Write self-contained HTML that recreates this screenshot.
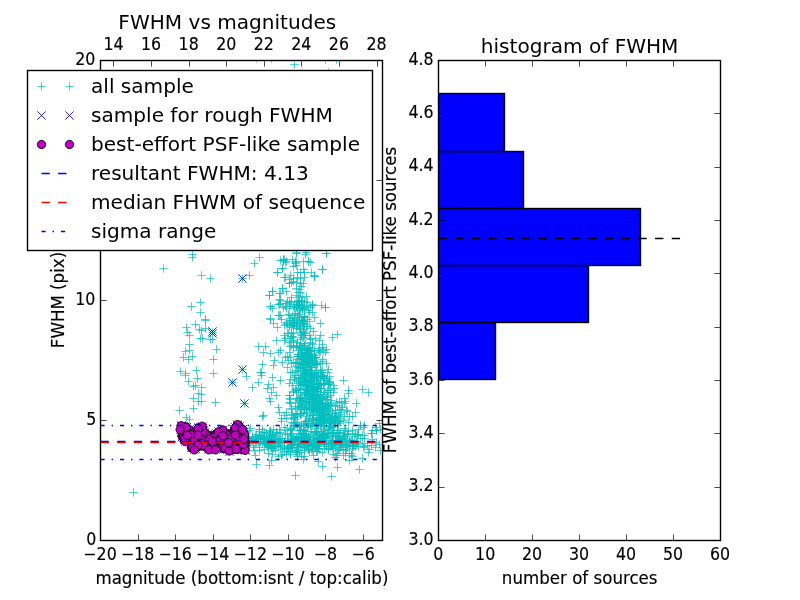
<!DOCTYPE html>
<html lang="en"><head><meta charset="utf-8"><title>FWHM vs magnitudes</title>
<style>html,body{margin:0;padding:0;background:#fff;}body{width:800px;height:600px;overflow:hidden;}svg{display:block;}text{font-family:'DejaVu Sans','Liberation Sans',sans-serif;fill:#000;}text.b{stroke:#000;stroke-width:0.15px;}.sp{fill:none;stroke:#000;stroke-width:1.39;stroke-linejoin:miter;stroke-linecap:square;}.tk{stroke:#000;stroke-width:0.7;fill:none;}.cp{stroke:#00bfbf;stroke-width:0.7;fill:none;}.bx{stroke:#0000ff;stroke-width:0.85;fill:none;}.mo{fill:#bf00bf;stroke:#000;stroke-width:0.8;}</style></head><body>
<svg width="800" height="600" viewBox="0 0 800 600">
<rect x="0" y="0" width="800" height="600" fill="#fff"/>
<defs><clipPath id="c1"><rect x="100.50" y="60.50" width="282.00" height="480.00"/></clipPath>
<clipPath id="c2"><rect x="438.50" y="60.50" width="282.00" height="480.00"/></clipPath></defs>
<g clip-path="url(#c1)">
<path class="cp" d="M294.3 301.5h8.34M298.5 297.3v8.34M287.3 301.5h8.34M291.5 297.3v8.34M294.3 301.5h8.34M298.5 297.3v8.34M283.3 301.5h8.34M287.5 297.3v8.34M297.3 301.5h8.34M301.5 297.3v8.34M293.3 302.5h8.34M297.5 298.3v8.34M282.3 303.5h8.34M286.5 299.3v8.34M292.3 304.5h8.34M296.5 300.3v8.34M295.3 304.5h8.34M299.5 300.3v8.34M286.3 304.5h8.34M290.5 300.3v8.34M295.3 305.5h8.34M299.5 301.3v8.34M317.3 305.5h8.34M321.5 301.3v8.34M298.3 305.5h8.34M302.5 301.3v8.34M285.3 306.5h8.34M289.5 302.3v8.34M292.3 306.5h8.34M296.5 302.3v8.34M289.3 306.5h8.34M293.5 302.3v8.34M302.3 306.5h8.34M306.5 302.3v8.34M292.3 306.5h8.34M296.5 302.3v8.34M292.3 307.5h8.34M296.5 303.3v8.34M293.3 307.5h8.34M297.5 303.3v8.34M300.3 307.5h8.34M304.5 303.3v8.34M298.3 307.5h8.34M302.5 303.3v8.34M279.3 307.5h8.34M283.5 303.3v8.34M282.3 308.5h8.34M286.5 304.3v8.34M296.3 308.5h8.34M300.5 304.3v8.34M298.3 308.5h8.34M302.5 304.3v8.34M290.3 308.5h8.34M294.5 304.3v8.34M300.3 309.5h8.34M304.5 305.3v8.34M298.3 309.5h8.34M302.5 305.3v8.34M295.3 310.5h8.34M299.5 306.3v8.34M304.3 310.5h8.34M308.5 306.3v8.34M305.3 312.5h8.34M309.5 308.3v8.34M308.3 312.5h8.34M312.5 308.3v8.34M293.3 313.5h8.34M297.5 309.3v8.34M291.3 313.5h8.34M295.5 309.3v8.34M295.3 314.5h8.34M299.5 310.3v8.34M284.3 314.5h8.34M288.5 310.3v8.34M288.3 315.5h8.34M292.5 311.3v8.34M294.3 315.5h8.34M298.5 311.3v8.34M285.3 315.5h8.34M289.5 311.3v8.34M300.3 316.5h8.34M304.5 312.3v8.34M300.3 316.5h8.34M304.5 312.3v8.34M300.3 317.5h8.34M304.5 313.3v8.34M300.3 317.5h8.34M304.5 313.3v8.34M290.3 317.5h8.34M294.5 313.3v8.34M295.3 317.5h8.34M299.5 313.3v8.34M286.3 318.5h8.34M290.5 314.3v8.34M290.3 318.5h8.34M294.5 314.3v8.34M303.3 319.5h8.34M307.5 315.3v8.34M293.3 319.5h8.34M297.5 315.3v8.34M277.3 319.5h8.34M281.5 315.3v8.34M298.3 320.5h8.34M302.5 316.3v8.34M299.3 320.5h8.34M303.5 316.3v8.34M297.3 320.5h8.34M301.5 316.3v8.34M288.3 320.5h8.34M292.5 316.3v8.34M285.3 320.5h8.34M289.5 316.3v8.34M295.3 320.5h8.34M299.5 316.3v8.34M298.3 321.5h8.34M302.5 317.3v8.34M289.3 321.5h8.34M293.5 317.3v8.34M305.3 321.5h8.34M309.5 317.3v8.34M299.3 321.5h8.34M303.5 317.3v8.34M282.3 322.5h8.34M286.5 318.3v8.34M292.3 322.5h8.34M296.5 318.3v8.34M298.3 322.5h8.34M302.5 318.3v8.34M290.3 322.5h8.34M294.5 318.3v8.34M289.3 322.5h8.34M293.5 318.3v8.34M292.3 323.5h8.34M296.5 319.3v8.34M289.3 322.5h8.34M293.5 318.3v8.34M300.3 323.5h8.34M304.5 319.3v8.34M290.3 323.5h8.34M294.5 319.3v8.34M283.3 323.5h8.34M287.5 319.3v8.34M299.3 323.5h8.34M303.5 319.3v8.34M282.3 324.5h8.34M286.5 320.3v8.34M300.3 324.5h8.34M304.5 320.3v8.34M285.3 324.5h8.34M289.5 320.3v8.34M285.3 324.5h8.34M289.5 320.3v8.34M290.3 324.5h8.34M294.5 320.3v8.34M289.3 325.5h8.34M293.5 321.3v8.34M293.3 325.5h8.34M297.5 321.3v8.34M289.3 325.5h8.34M293.5 321.3v8.34M292.3 325.5h8.34M296.5 321.3v8.34M303.3 326.5h8.34M307.5 322.3v8.34M295.3 325.5h8.34M299.5 321.3v8.34M280.3 325.5h8.34M284.5 321.3v8.34M287.3 327.5h8.34M291.5 323.3v8.34M285.3 326.5h8.34M289.5 322.3v8.34M302.3 326.5h8.34M306.5 322.3v8.34M292.3 326.5h8.34M296.5 322.3v8.34M299.3 326.5h8.34M303.5 322.3v8.34M296.3 327.5h8.34M300.5 323.3v8.34M306.3 328.5h8.34M310.5 324.3v8.34M292.3 328.5h8.34M296.5 324.3v8.34M295.3 328.5h8.34M299.5 324.3v8.34M296.3 329.5h8.34M300.5 325.3v8.34M299.3 329.5h8.34M303.5 325.3v8.34M299.3 331.5h8.34M303.5 327.3v8.34M300.3 332.5h8.34M304.5 328.3v8.34M287.3 332.5h8.34M291.5 328.3v8.34M296.3 332.5h8.34M300.5 328.3v8.34M289.3 333.5h8.34M293.5 329.3v8.34M284.3 333.5h8.34M288.5 329.3v8.34M283.3 333.5h8.34M287.5 329.3v8.34M301.3 333.5h8.34M305.5 329.3v8.34M297.3 335.5h8.34M301.5 331.3v8.34M333.3 334.5h8.34M337.5 330.3v8.34M297.3 334.5h8.34M301.5 330.3v8.34M305.3 335.5h8.34M309.5 331.3v8.34M300.3 335.5h8.34M304.5 331.3v8.34M280.3 335.5h8.34M284.5 331.3v8.34M288.3 336.5h8.34M292.5 332.3v8.34M287.3 336.5h8.34M291.5 332.3v8.34M298.3 337.5h8.34M302.5 333.3v8.34M299.3 337.5h8.34M303.5 333.3v8.34M289.3 337.5h8.34M293.5 333.3v8.34M306.3 338.5h8.34M310.5 334.3v8.34M286.3 338.5h8.34M290.5 334.3v8.34M311.3 338.5h8.34M315.5 334.3v8.34M281.3 338.5h8.34M285.5 334.3v8.34M306.3 339.5h8.34M310.5 335.3v8.34M296.3 339.5h8.34M300.5 335.3v8.34M289.3 340.5h8.34M293.5 336.3v8.34M280.3 340.5h8.34M284.5 336.3v8.34M285.3 342.5h8.34M289.5 338.3v8.34M289.3 341.5h8.34M293.5 337.3v8.34M293.3 342.5h8.34M297.5 338.3v8.34M306.3 342.5h8.34M310.5 338.3v8.34M296.3 343.5h8.34M300.5 339.3v8.34M308.3 343.5h8.34M312.5 339.3v8.34M301.3 343.5h8.34M305.5 339.3v8.34M318.3 344.5h8.34M322.5 340.3v8.34M308.3 344.5h8.34M312.5 340.3v8.34M287.3 345.5h8.34M291.5 341.3v8.34M300.3 345.5h8.34M304.5 341.3v8.34M300.3 345.5h8.34M304.5 341.3v8.34M292.3 345.5h8.34M296.5 341.3v8.34M286.3 346.5h8.34M290.5 342.3v8.34M292.3 346.5h8.34M296.5 342.3v8.34M295.3 346.5h8.34M299.5 342.3v8.34M289.3 347.5h8.34M293.5 343.3v8.34M318.3 347.5h8.34M322.5 343.3v8.34M299.3 347.5h8.34M303.5 343.3v8.34M298.3 348.5h8.34M302.5 344.3v8.34M305.3 347.5h8.34M309.5 343.3v8.34M296.3 347.5h8.34M300.5 343.3v8.34M297.3 347.5h8.34M301.5 343.3v8.34M289.3 347.5h8.34M293.5 343.3v8.34M308.3 348.5h8.34M312.5 344.3v8.34M298.3 348.5h8.34M302.5 344.3v8.34M315.3 348.5h8.34M319.5 344.3v8.34M296.3 348.5h8.34M300.5 344.3v8.34M304.3 348.5h8.34M308.5 344.3v8.34M295.3 348.5h8.34M299.5 344.3v8.34M303.3 349.5h8.34M307.5 345.3v8.34M303.3 349.5h8.34M307.5 345.3v8.34M276.3 350.5h8.34M280.5 346.3v8.34M302.3 350.5h8.34M306.5 346.3v8.34M303.3 350.5h8.34M307.5 346.3v8.34M310.3 350.5h8.34M314.5 346.3v8.34M294.3 350.5h8.34M298.5 346.3v8.34M297.3 350.5h8.34M301.5 346.3v8.34M314.3 350.5h8.34M318.5 346.3v8.34M305.3 350.5h8.34M309.5 346.3v8.34M306.3 351.5h8.34M310.5 347.3v8.34M306.3 351.5h8.34M310.5 347.3v8.34M285.3 352.5h8.34M289.5 348.3v8.34M300.3 352.5h8.34M304.5 348.3v8.34M297.3 352.5h8.34M301.5 348.3v8.34M302.3 353.5h8.34M306.5 349.3v8.34M315.3 352.5h8.34M319.5 348.3v8.34M300.3 352.5h8.34M304.5 348.3v8.34M305.3 353.5h8.34M309.5 349.3v8.34M297.3 353.5h8.34M301.5 349.3v8.34M294.3 354.5h8.34M298.5 350.3v8.34M305.3 354.5h8.34M309.5 350.3v8.34M301.3 355.5h8.34M305.5 351.3v8.34M294.3 354.5h8.34M298.5 350.3v8.34M307.3 354.5h8.34M311.5 350.3v8.34M303.3 354.5h8.34M307.5 350.3v8.34M301.3 354.5h8.34M305.5 350.3v8.34M305.3 355.5h8.34M309.5 351.3v8.34M304.3 355.5h8.34M308.5 351.3v8.34M298.3 355.5h8.34M302.5 351.3v8.34M310.3 355.5h8.34M314.5 351.3v8.34M297.3 355.5h8.34M301.5 351.3v8.34M300.3 356.5h8.34M304.5 352.3v8.34M305.3 356.5h8.34M309.5 352.3v8.34M295.3 356.5h8.34M299.5 352.3v8.34M294.3 356.5h8.34M298.5 352.3v8.34M293.3 356.5h8.34M297.5 352.3v8.34M283.3 356.5h8.34M287.5 352.3v8.34M307.3 356.5h8.34M311.5 352.3v8.34M298.3 357.5h8.34M302.5 353.3v8.34M302.3 357.5h8.34M306.5 353.3v8.34M311.3 357.5h8.34M315.5 353.3v8.34M286.3 357.5h8.34M290.5 353.3v8.34M311.3 357.5h8.34M315.5 353.3v8.34M298.3 357.5h8.34M302.5 353.3v8.34M312.3 357.5h8.34M316.5 353.3v8.34M301.3 357.5h8.34M305.5 353.3v8.34M300.3 358.5h8.34M304.5 354.3v8.34M306.3 358.5h8.34M310.5 354.3v8.34M308.3 358.5h8.34M312.5 354.3v8.34M310.3 358.5h8.34M314.5 354.3v8.34M299.3 358.5h8.34M303.5 354.3v8.34M299.3 358.5h8.34M303.5 354.3v8.34M305.3 358.5h8.34M309.5 354.3v8.34M293.3 359.5h8.34M297.5 355.3v8.34M308.3 359.5h8.34M312.5 355.3v8.34M318.3 359.5h8.34M322.5 355.3v8.34M297.3 359.5h8.34M301.5 355.3v8.34M299.3 359.5h8.34M303.5 355.3v8.34M305.3 361.5h8.34M309.5 357.3v8.34M308.3 360.5h8.34M312.5 356.3v8.34M303.3 360.5h8.34M307.5 356.3v8.34M303.3 360.5h8.34M307.5 356.3v8.34M301.3 360.5h8.34M305.5 356.3v8.34M306.3 360.5h8.34M310.5 356.3v8.34M303.3 360.5h8.34M307.5 356.3v8.34M284.3 360.5h8.34M288.5 356.3v8.34M304.3 360.5h8.34M308.5 356.3v8.34M309.3 361.5h8.34M313.5 357.3v8.34M306.3 361.5h8.34M310.5 357.3v8.34M289.3 362.5h8.34M293.5 358.3v8.34M307.3 361.5h8.34M311.5 357.3v8.34M298.3 361.5h8.34M302.5 357.3v8.34M299.3 361.5h8.34M303.5 357.3v8.34M300.3 361.5h8.34M304.5 357.3v8.34M318.3 361.5h8.34M322.5 357.3v8.34M305.3 362.5h8.34M309.5 358.3v8.34M311.3 362.5h8.34M315.5 358.3v8.34M291.3 362.5h8.34M295.5 358.3v8.34M302.3 362.5h8.34M306.5 358.3v8.34M292.3 362.5h8.34M296.5 358.3v8.34M293.3 363.5h8.34M297.5 359.3v8.34M304.3 363.5h8.34M308.5 359.3v8.34M302.3 363.5h8.34M306.5 359.3v8.34M312.3 363.5h8.34M316.5 359.3v8.34M301.3 363.5h8.34M305.5 359.3v8.34M306.3 363.5h8.34M310.5 359.3v8.34M287.3 363.5h8.34M291.5 359.3v8.34M322.3 363.5h8.34M326.5 359.3v8.34M310.3 363.5h8.34M314.5 359.3v8.34M295.3 363.5h8.34M299.5 359.3v8.34M316.3 363.5h8.34M320.5 359.3v8.34M307.3 364.5h8.34M311.5 360.3v8.34M312.3 364.5h8.34M316.5 360.3v8.34M296.3 364.5h8.34M300.5 360.3v8.34M312.3 364.5h8.34M316.5 360.3v8.34M297.3 364.5h8.34M301.5 360.3v8.34M307.3 364.5h8.34M311.5 360.3v8.34M313.3 364.5h8.34M317.5 360.3v8.34M299.3 364.5h8.34M303.5 360.3v8.34M304.3 364.5h8.34M308.5 360.3v8.34M306.3 365.5h8.34M310.5 361.3v8.34M299.3 365.5h8.34M303.5 361.3v8.34M307.3 365.5h8.34M311.5 361.3v8.34M307.3 365.5h8.34M311.5 361.3v8.34M300.3 365.5h8.34M304.5 361.3v8.34M305.3 365.5h8.34M309.5 361.3v8.34M291.3 366.5h8.34M295.5 362.3v8.34M298.3 367.5h8.34M302.5 363.3v8.34M306.3 366.5h8.34M310.5 362.3v8.34M307.3 367.5h8.34M311.5 363.3v8.34M301.3 367.5h8.34M305.5 363.3v8.34M307.3 367.5h8.34M311.5 363.3v8.34M294.3 367.5h8.34M298.5 363.3v8.34M296.3 367.5h8.34M300.5 363.3v8.34M306.3 367.5h8.34M310.5 363.3v8.34M302.3 367.5h8.34M306.5 363.3v8.34M283.3 367.5h8.34M287.5 363.3v8.34M296.3 368.5h8.34M300.5 364.3v8.34M299.3 369.5h8.34M303.5 365.3v8.34M298.3 368.5h8.34M302.5 364.3v8.34M302.3 369.5h8.34M306.5 365.3v8.34M316.3 370.5h8.34M320.5 366.3v8.34M302.3 369.5h8.34M306.5 365.3v8.34M303.3 369.5h8.34M307.5 365.3v8.34M305.3 370.5h8.34M309.5 366.3v8.34M292.3 370.5h8.34M296.5 366.3v8.34M298.3 370.5h8.34M302.5 366.3v8.34M311.3 370.5h8.34M315.5 366.3v8.34M303.3 370.5h8.34M307.5 366.3v8.34M318.3 370.5h8.34M322.5 366.3v8.34M293.3 371.5h8.34M297.5 367.3v8.34M299.3 371.5h8.34M303.5 367.3v8.34M305.3 371.5h8.34M309.5 367.3v8.34M316.3 372.5h8.34M320.5 368.3v8.34M317.3 372.5h8.34M321.5 368.3v8.34M299.3 372.5h8.34M303.5 368.3v8.34M312.3 372.5h8.34M316.5 368.3v8.34M286.3 372.5h8.34M290.5 368.3v8.34M308.3 372.5h8.34M312.5 368.3v8.34M323.3 372.5h8.34M327.5 368.3v8.34M288.3 372.5h8.34M292.5 368.3v8.34M301.3 373.5h8.34M305.5 369.3v8.34M301.3 373.5h8.34M305.5 369.3v8.34M314.3 373.5h8.34M318.5 369.3v8.34M300.3 374.5h8.34M304.5 370.3v8.34M310.3 373.5h8.34M314.5 369.3v8.34M304.3 373.5h8.34M308.5 369.3v8.34M300.3 373.5h8.34M304.5 369.3v8.34M307.3 374.5h8.34M311.5 370.3v8.34M311.3 374.5h8.34M315.5 370.3v8.34M303.3 374.5h8.34M307.5 370.3v8.34M301.3 374.5h8.34M305.5 370.3v8.34M317.3 375.5h8.34M321.5 371.3v8.34M294.3 375.5h8.34M298.5 371.3v8.34M318.3 375.5h8.34M322.5 371.3v8.34M299.3 375.5h8.34M303.5 371.3v8.34M309.3 375.5h8.34M313.5 371.3v8.34M319.3 375.5h8.34M323.5 371.3v8.34M306.3 375.5h8.34M310.5 371.3v8.34M307.3 375.5h8.34M311.5 371.3v8.34M306.3 375.5h8.34M310.5 371.3v8.34M291.3 375.5h8.34M295.5 371.3v8.34M301.3 376.5h8.34M305.5 372.3v8.34M307.3 376.5h8.34M311.5 372.3v8.34M319.3 376.5h8.34M323.5 372.3v8.34M301.3 376.5h8.34M305.5 372.3v8.34M312.3 376.5h8.34M316.5 372.3v8.34M318.3 376.5h8.34M322.5 372.3v8.34M325.3 376.5h8.34M329.5 372.3v8.34M300.3 376.5h8.34M304.5 372.3v8.34M302.3 376.5h8.34M306.5 372.3v8.34M308.3 377.5h8.34M312.5 373.3v8.34M313.3 377.5h8.34M317.5 373.3v8.34M312.3 377.5h8.34M316.5 373.3v8.34M296.3 377.5h8.34M300.5 373.3v8.34M310.3 377.5h8.34M314.5 373.3v8.34M268.3 377.5h8.34M272.5 373.3v8.34M312.3 377.5h8.34M316.5 373.3v8.34M297.3 377.5h8.34M301.5 373.3v8.34M290.3 377.5h8.34M294.5 373.3v8.34M316.3 377.5h8.34M320.5 373.3v8.34M295.3 378.5h8.34M299.5 374.3v8.34M316.3 378.5h8.34M320.5 374.3v8.34M303.3 379.5h8.34M307.5 375.3v8.34M305.3 378.5h8.34M309.5 374.3v8.34M320.3 378.5h8.34M324.5 374.3v8.34M298.3 378.5h8.34M302.5 374.3v8.34M323.3 378.5h8.34M327.5 374.3v8.34M320.3 378.5h8.34M324.5 374.3v8.34M309.3 378.5h8.34M313.5 374.3v8.34M290.3 379.5h8.34M294.5 375.3v8.34M286.3 379.5h8.34M290.5 375.3v8.34M301.3 379.5h8.34M305.5 375.3v8.34M316.3 379.5h8.34M320.5 375.3v8.34M313.3 380.5h8.34M317.5 376.3v8.34M322.3 380.5h8.34M326.5 376.3v8.34M306.3 380.5h8.34M310.5 376.3v8.34M300.3 380.5h8.34M304.5 376.3v8.34M312.3 380.5h8.34M316.5 376.3v8.34M322.3 380.5h8.34M326.5 376.3v8.34M305.3 380.5h8.34M309.5 376.3v8.34M309.3 380.5h8.34M313.5 376.3v8.34M292.3 380.5h8.34M296.5 376.3v8.34M305.3 381.5h8.34M309.5 377.3v8.34M305.3 381.5h8.34M309.5 377.3v8.34M302.3 381.5h8.34M306.5 377.3v8.34M294.3 381.5h8.34M298.5 377.3v8.34M307.3 381.5h8.34M311.5 377.3v8.34M305.3 382.5h8.34M309.5 378.3v8.34M310.3 382.5h8.34M314.5 378.3v8.34M325.3 382.5h8.34M329.5 378.3v8.34M300.3 382.5h8.34M304.5 378.3v8.34M305.3 382.5h8.34M309.5 378.3v8.34M296.3 382.5h8.34M300.5 378.3v8.34M312.3 382.5h8.34M316.5 378.3v8.34M301.3 382.5h8.34M305.5 378.3v8.34M324.3 382.5h8.34M328.5 378.3v8.34M325.3 383.5h8.34M329.5 379.3v8.34M304.3 383.5h8.34M308.5 379.3v8.34M316.3 383.5h8.34M320.5 379.3v8.34M314.3 383.5h8.34M318.5 379.3v8.34M319.3 383.5h8.34M323.5 379.3v8.34M308.3 383.5h8.34M312.5 379.3v8.34M294.3 383.5h8.34M298.5 379.3v8.34M285.3 383.5h8.34M289.5 379.3v8.34M320.3 383.5h8.34M324.5 379.3v8.34M298.3 383.5h8.34M302.5 379.3v8.34M315.3 384.5h8.34M319.5 380.3v8.34M301.3 384.5h8.34M305.5 380.3v8.34M314.3 384.5h8.34M318.5 380.3v8.34M308.3 384.5h8.34M312.5 380.3v8.34M299.3 384.5h8.34M303.5 380.3v8.34M301.3 384.5h8.34M305.5 380.3v8.34M324.3 384.5h8.34M328.5 380.3v8.34M319.3 384.5h8.34M323.5 380.3v8.34M297.3 384.5h8.34M301.5 380.3v8.34M324.3 384.5h8.34M328.5 380.3v8.34M317.3 385.5h8.34M321.5 381.3v8.34M303.3 385.5h8.34M307.5 381.3v8.34M288.3 385.5h8.34M292.5 381.3v8.34M329.3 385.5h8.34M333.5 381.3v8.34M302.3 385.5h8.34M306.5 381.3v8.34M295.3 385.5h8.34M299.5 381.3v8.34M305.3 385.5h8.34M309.5 381.3v8.34M302.3 386.5h8.34M306.5 382.3v8.34M307.3 386.5h8.34M311.5 382.3v8.34M312.3 386.5h8.34M316.5 382.3v8.34M305.3 386.5h8.34M309.5 382.3v8.34M312.3 386.5h8.34M316.5 382.3v8.34M305.3 386.5h8.34M309.5 382.3v8.34M313.3 387.5h8.34M317.5 383.3v8.34M309.3 387.5h8.34M313.5 383.3v8.34M304.3 387.5h8.34M308.5 383.3v8.34M311.3 387.5h8.34M315.5 383.3v8.34M248.3 387.5h8.34M252.5 383.3v8.34M269.3 387.5h8.34M273.5 383.3v8.34M301.3 388.5h8.34M305.5 384.3v8.34M305.3 387.5h8.34M309.5 383.3v8.34M326.3 388.5h8.34M330.5 384.3v8.34M317.3 388.5h8.34M321.5 384.3v8.34M296.3 389.5h8.34M300.5 385.3v8.34M294.3 388.5h8.34M298.5 384.3v8.34M309.3 388.5h8.34M313.5 384.3v8.34M314.3 388.5h8.34M318.5 384.3v8.34M316.3 388.5h8.34M320.5 384.3v8.34M313.3 388.5h8.34M317.5 384.3v8.34M263.3 388.5h8.34M267.5 384.3v8.34M330.3 388.5h8.34M334.5 384.3v8.34M310.3 388.5h8.34M314.5 384.3v8.34M302.3 389.5h8.34M306.5 385.3v8.34M291.3 389.5h8.34M295.5 385.3v8.34M301.3 389.5h8.34M305.5 385.3v8.34M307.3 389.5h8.34M311.5 385.3v8.34M312.3 389.5h8.34M316.5 385.3v8.34M310.3 389.5h8.34M314.5 385.3v8.34M358.3 389.5h8.34M362.5 385.3v8.34M309.3 389.5h8.34M313.5 385.3v8.34M303.3 389.5h8.34M307.5 385.3v8.34M302.3 389.5h8.34M306.5 385.3v8.34M303.3 390.5h8.34M307.5 386.3v8.34M303.3 390.5h8.34M307.5 386.3v8.34M302.3 390.5h8.34M306.5 386.3v8.34M323.3 390.5h8.34M327.5 386.3v8.34M292.3 390.5h8.34M296.5 386.3v8.34M308.3 390.5h8.34M312.5 386.3v8.34M326.3 390.5h8.34M330.5 386.3v8.34M292.3 390.5h8.34M296.5 386.3v8.34M289.3 391.5h8.34M293.5 387.3v8.34M303.3 391.5h8.34M307.5 387.3v8.34M308.3 391.5h8.34M312.5 387.3v8.34M306.3 391.5h8.34M310.5 387.3v8.34M312.3 391.5h8.34M316.5 387.3v8.34M313.3 391.5h8.34M317.5 387.3v8.34M305.3 391.5h8.34M309.5 387.3v8.34M289.3 392.5h8.34M293.5 388.3v8.34M294.3 392.5h8.34M298.5 388.3v8.34M320.3 392.5h8.34M324.5 388.3v8.34M300.3 392.5h8.34M304.5 388.3v8.34M324.3 392.5h8.34M328.5 388.3v8.34M316.3 392.5h8.34M320.5 388.3v8.34M321.3 392.5h8.34M325.5 388.3v8.34M364.3 392.5h8.34M368.5 388.3v8.34M301.3 392.5h8.34M305.5 388.3v8.34M310.3 393.5h8.34M314.5 389.3v8.34M301.3 393.5h8.34M305.5 389.3v8.34M307.3 393.5h8.34M311.5 389.3v8.34M316.3 394.5h8.34M320.5 390.3v8.34M302.3 393.5h8.34M306.5 389.3v8.34M309.3 393.5h8.34M313.5 389.3v8.34M285.3 395.5h8.34M289.5 391.3v8.34M301.3 394.5h8.34M305.5 390.3v8.34M309.3 394.5h8.34M313.5 390.3v8.34M312.3 394.5h8.34M316.5 390.3v8.34M311.3 394.5h8.34M315.5 390.3v8.34M308.3 394.5h8.34M312.5 390.3v8.34M319.3 394.5h8.34M323.5 390.3v8.34M285.3 395.5h8.34M289.5 391.3v8.34M326.3 395.5h8.34M330.5 391.3v8.34M272.3 395.5h8.34M276.5 391.3v8.34M305.3 395.5h8.34M309.5 391.3v8.34M310.3 395.5h8.34M314.5 391.3v8.34M297.3 395.5h8.34M301.5 391.3v8.34M306.3 395.5h8.34M310.5 391.3v8.34M312.3 395.5h8.34M316.5 391.3v8.34M314.3 395.5h8.34M318.5 391.3v8.34M309.3 395.5h8.34M313.5 391.3v8.34M312.3 395.5h8.34M316.5 391.3v8.34M305.3 396.5h8.34M309.5 392.3v8.34M310.3 396.5h8.34M314.5 392.3v8.34M309.3 396.5h8.34M313.5 392.3v8.34M304.3 396.5h8.34M308.5 392.3v8.34M323.3 396.5h8.34M327.5 392.3v8.34M308.3 396.5h8.34M312.5 392.3v8.34M309.3 396.5h8.34M313.5 392.3v8.34M307.3 396.5h8.34M311.5 392.3v8.34M314.3 397.5h8.34M318.5 393.3v8.34M319.3 397.5h8.34M323.5 393.3v8.34M315.3 397.5h8.34M319.5 393.3v8.34M304.3 397.5h8.34M308.5 393.3v8.34M296.3 397.5h8.34M300.5 393.3v8.34M323.3 397.5h8.34M327.5 393.3v8.34M314.3 397.5h8.34M318.5 393.3v8.34M296.3 397.5h8.34M300.5 393.3v8.34M315.3 398.5h8.34M319.5 394.3v8.34M285.3 398.5h8.34M289.5 394.3v8.34M308.3 398.5h8.34M312.5 394.3v8.34M302.3 398.5h8.34M306.5 394.3v8.34M307.3 398.5h8.34M311.5 394.3v8.34M300.3 398.5h8.34M304.5 394.3v8.34M310.3 398.5h8.34M314.5 394.3v8.34M317.3 398.5h8.34M321.5 394.3v8.34M316.3 398.5h8.34M320.5 394.3v8.34M318.3 398.5h8.34M322.5 394.3v8.34M307.3 398.5h8.34M311.5 394.3v8.34M293.3 398.5h8.34M297.5 394.3v8.34M292.3 398.5h8.34M296.5 394.3v8.34M308.3 399.5h8.34M312.5 395.3v8.34M318.3 399.5h8.34M322.5 395.3v8.34M295.3 399.5h8.34M299.5 395.3v8.34M323.3 399.5h8.34M327.5 395.3v8.34M304.3 399.5h8.34M308.5 395.3v8.34M286.3 399.5h8.34M290.5 395.3v8.34M305.3 399.5h8.34M309.5 395.3v8.34M322.3 399.5h8.34M326.5 395.3v8.34M309.3 399.5h8.34M313.5 395.3v8.34M309.3 399.5h8.34M313.5 395.3v8.34M316.3 400.5h8.34M320.5 396.3v8.34M298.3 400.5h8.34M302.5 396.3v8.34M309.3 401.5h8.34M313.5 397.3v8.34M313.3 400.5h8.34M317.5 396.3v8.34M316.3 400.5h8.34M320.5 396.3v8.34M299.3 400.5h8.34M303.5 396.3v8.34M295.3 400.5h8.34M299.5 396.3v8.34M327.3 400.5h8.34M331.5 396.3v8.34M312.3 401.5h8.34M316.5 397.3v8.34M297.3 401.5h8.34M301.5 397.3v8.34M308.3 401.5h8.34M312.5 397.3v8.34M316.3 402.5h8.34M320.5 398.3v8.34M335.3 401.5h8.34M339.5 397.3v8.34M304.3 401.5h8.34M308.5 397.3v8.34M304.3 401.5h8.34M308.5 397.3v8.34M317.3 402.5h8.34M321.5 398.3v8.34M332.3 402.5h8.34M336.5 398.3v8.34M291.3 402.5h8.34M295.5 398.3v8.34M305.3 402.5h8.34M309.5 398.3v8.34M302.3 402.5h8.34M306.5 398.3v8.34M311.3 402.5h8.34M315.5 398.3v8.34M306.3 402.5h8.34M310.5 398.3v8.34M337.3 402.5h8.34M341.5 398.3v8.34M285.3 402.5h8.34M289.5 398.3v8.34M308.3 403.5h8.34M312.5 399.3v8.34M314.3 403.5h8.34M318.5 399.3v8.34M321.3 403.5h8.34M325.5 399.3v8.34M316.3 403.5h8.34M320.5 399.3v8.34M296.3 403.5h8.34M300.5 399.3v8.34M316.3 403.5h8.34M320.5 399.3v8.34M305.3 403.5h8.34M309.5 399.3v8.34M298.3 403.5h8.34M302.5 399.3v8.34M321.3 404.5h8.34M325.5 400.3v8.34M286.3 403.5h8.34M290.5 399.3v8.34M340.3 403.5h8.34M344.5 399.3v8.34M326.3 403.5h8.34M330.5 399.3v8.34M315.3 404.5h8.34M319.5 400.3v8.34M313.3 404.5h8.34M317.5 400.3v8.34M327.3 404.5h8.34M331.5 400.3v8.34M297.3 404.5h8.34M301.5 400.3v8.34M311.3 404.5h8.34M315.5 400.3v8.34M318.3 404.5h8.34M322.5 400.3v8.34M310.3 404.5h8.34M314.5 400.3v8.34M309.3 405.5h8.34M313.5 401.3v8.34M324.3 405.5h8.34M328.5 401.3v8.34M323.3 405.5h8.34M327.5 401.3v8.34M326.3 405.5h8.34M330.5 401.3v8.34M312.3 405.5h8.34M316.5 401.3v8.34M316.3 405.5h8.34M320.5 401.3v8.34M301.3 405.5h8.34M305.5 401.3v8.34M324.3 405.5h8.34M328.5 401.3v8.34M309.3 405.5h8.34M313.5 401.3v8.34M333.3 405.5h8.34M337.5 401.3v8.34M309.3 405.5h8.34M313.5 401.3v8.34M298.3 405.5h8.34M302.5 401.3v8.34M303.3 405.5h8.34M307.5 401.3v8.34M308.3 405.5h8.34M312.5 401.3v8.34M311.3 406.5h8.34M315.5 402.3v8.34M298.3 406.5h8.34M302.5 402.3v8.34M312.3 406.5h8.34M316.5 402.3v8.34M291.3 406.5h8.34M295.5 402.3v8.34M318.3 406.5h8.34M322.5 402.3v8.34M331.3 406.5h8.34M335.5 402.3v8.34M310.3 406.5h8.34M314.5 402.3v8.34M294.3 406.5h8.34M298.5 402.3v8.34M312.3 406.5h8.34M316.5 402.3v8.34M321.3 406.5h8.34M325.5 402.3v8.34M312.3 407.5h8.34M316.5 403.3v8.34M318.3 407.5h8.34M322.5 403.3v8.34M317.3 407.5h8.34M321.5 403.3v8.34M295.3 407.5h8.34M299.5 403.3v8.34M318.3 407.5h8.34M322.5 403.3v8.34M314.3 407.5h8.34M318.5 403.3v8.34M300.3 407.5h8.34M304.5 403.3v8.34M302.3 407.5h8.34M306.5 403.3v8.34M293.3 408.5h8.34M297.5 404.3v8.34M312.3 407.5h8.34M316.5 403.3v8.34M274.3 407.5h8.34M278.5 403.3v8.34M304.3 407.5h8.34M308.5 403.3v8.34M316.3 407.5h8.34M320.5 403.3v8.34M338.3 407.5h8.34M342.5 403.3v8.34M305.3 407.5h8.34M309.5 403.3v8.34M315.3 407.5h8.34M319.5 403.3v8.34M322.3 407.5h8.34M326.5 403.3v8.34M305.3 408.5h8.34M309.5 404.3v8.34M302.3 408.5h8.34M306.5 404.3v8.34M319.3 408.5h8.34M323.5 404.3v8.34M311.3 408.5h8.34M315.5 404.3v8.34M320.3 409.5h8.34M324.5 405.3v8.34M316.3 408.5h8.34M320.5 404.3v8.34M287.3 408.5h8.34M291.5 404.3v8.34M324.3 408.5h8.34M328.5 404.3v8.34M311.3 408.5h8.34M315.5 404.3v8.34M323.3 409.5h8.34M327.5 405.3v8.34M308.3 409.5h8.34M312.5 405.3v8.34M315.3 409.5h8.34M319.5 405.3v8.34M312.3 409.5h8.34M316.5 405.3v8.34M297.3 409.5h8.34M301.5 405.3v8.34M335.3 409.5h8.34M339.5 405.3v8.34M287.3 409.5h8.34M291.5 405.3v8.34M300.3 409.5h8.34M304.5 405.3v8.34M307.3 409.5h8.34M311.5 405.3v8.34M319.3 409.5h8.34M323.5 405.3v8.34M300.3 409.5h8.34M304.5 405.3v8.34M337.3 409.5h8.34M341.5 405.3v8.34M307.3 409.5h8.34M311.5 405.3v8.34M325.3 410.5h8.34M329.5 406.3v8.34M313.3 410.5h8.34M317.5 406.3v8.34M342.3 410.5h8.34M346.5 406.3v8.34M331.3 410.5h8.34M335.5 406.3v8.34M325.3 410.5h8.34M329.5 406.3v8.34M309.3 410.5h8.34M313.5 406.3v8.34M309.3 410.5h8.34M313.5 406.3v8.34M310.3 411.5h8.34M314.5 407.3v8.34M322.3 411.5h8.34M326.5 407.3v8.34M316.3 411.5h8.34M320.5 407.3v8.34M343.3 411.5h8.34M347.5 407.3v8.34M323.3 411.5h8.34M327.5 407.3v8.34M320.3 411.5h8.34M324.5 407.3v8.34M282.3 412.5h8.34M286.5 408.3v8.34M275.3 412.5h8.34M279.5 408.3v8.34M299.3 412.5h8.34M303.5 408.3v8.34M336.3 412.5h8.34M340.5 408.3v8.34M328.3 412.5h8.34M332.5 408.3v8.34M315.3 412.5h8.34M319.5 408.3v8.34M303.3 412.5h8.34M307.5 408.3v8.34M316.3 412.5h8.34M320.5 408.3v8.34M320.3 413.5h8.34M324.5 409.3v8.34M319.3 413.5h8.34M323.5 409.3v8.34M292.3 413.5h8.34M296.5 409.3v8.34M331.3 413.5h8.34M335.5 409.3v8.34M296.3 413.5h8.34M300.5 409.3v8.34M315.3 413.5h8.34M319.5 409.3v8.34M296.3 413.5h8.34M300.5 409.3v8.34M318.3 413.5h8.34M322.5 409.3v8.34M302.3 413.5h8.34M306.5 409.3v8.34M315.3 413.5h8.34M319.5 409.3v8.34M328.3 413.5h8.34M332.5 409.3v8.34M325.3 414.5h8.34M329.5 410.3v8.34M288.3 414.5h8.34M292.5 410.3v8.34M316.3 415.5h8.34M320.5 411.3v8.34M321.3 414.5h8.34M325.5 410.3v8.34M297.3 414.5h8.34M301.5 410.3v8.34M291.3 414.5h8.34M295.5 410.3v8.34M308.3 414.5h8.34M312.5 410.3v8.34M336.3 414.5h8.34M340.5 410.3v8.34M317.3 414.5h8.34M321.5 410.3v8.34M306.3 415.5h8.34M310.5 411.3v8.34M296.3 415.5h8.34M300.5 411.3v8.34M312.3 415.5h8.34M316.5 411.3v8.34M309.3 415.5h8.34M313.5 411.3v8.34M287.3 415.5h8.34M291.5 411.3v8.34M314.3 415.5h8.34M318.5 411.3v8.34M318.3 415.5h8.34M322.5 411.3v8.34M280.3 415.5h8.34M284.5 411.3v8.34M309.3 415.5h8.34M313.5 411.3v8.34M324.3 415.5h8.34M328.5 411.3v8.34M334.3 415.5h8.34M338.5 411.3v8.34M302.3 416.5h8.34M306.5 412.3v8.34M317.3 417.5h8.34M321.5 413.3v8.34M332.3 416.5h8.34M336.5 412.3v8.34M323.3 416.5h8.34M327.5 412.3v8.34M293.3 416.5h8.34M297.5 412.3v8.34M340.3 416.5h8.34M344.5 412.3v8.34M316.3 417.5h8.34M320.5 413.3v8.34M330.3 417.5h8.34M334.5 413.3v8.34M345.3 416.5h8.34M349.5 412.3v8.34M258.3 416.5h8.34M262.5 412.3v8.34M331.3 416.5h8.34M335.5 412.3v8.34M315.3 418.5h8.34M319.5 414.3v8.34M289.3 417.5h8.34M293.5 413.3v8.34M326.3 418.5h8.34M330.5 414.3v8.34M323.3 417.5h8.34M327.5 413.3v8.34M331.3 417.5h8.34M335.5 413.3v8.34M328.3 417.5h8.34M332.5 413.3v8.34M290.3 417.5h8.34M294.5 413.3v8.34M312.3 417.5h8.34M316.5 413.3v8.34M312.3 417.5h8.34M316.5 413.3v8.34M327.3 417.5h8.34M331.5 413.3v8.34M318.3 418.5h8.34M322.5 414.3v8.34M321.3 418.5h8.34M325.5 414.3v8.34M290.3 418.5h8.34M294.5 414.3v8.34M305.3 418.5h8.34M309.5 414.3v8.34M321.3 418.5h8.34M325.5 414.3v8.34M334.3 418.5h8.34M338.5 414.3v8.34M309.3 418.5h8.34M313.5 414.3v8.34M319.3 418.5h8.34M323.5 414.3v8.34M319.3 418.5h8.34M323.5 414.3v8.34M282.3 418.5h8.34M286.5 414.3v8.34M321.3 418.5h8.34M325.5 414.3v8.34M321.3 418.5h8.34M325.5 414.3v8.34M331.3 420.5h8.34M335.5 416.3v8.34M319.3 419.5h8.34M323.5 415.3v8.34M316.3 419.5h8.34M320.5 415.3v8.34M330.3 419.5h8.34M334.5 415.3v8.34M308.3 419.5h8.34M312.5 415.3v8.34M323.3 419.5h8.34M327.5 415.3v8.34M314.3 419.5h8.34M318.5 415.3v8.34M312.3 419.5h8.34M316.5 415.3v8.34M290.3 419.5h8.34M294.5 415.3v8.34M314.3 419.5h8.34M318.5 415.3v8.34M323.3 420.5h8.34M327.5 416.3v8.34M333.3 420.5h8.34M337.5 416.3v8.34M308.3 420.5h8.34M312.5 416.3v8.34M339.3 420.5h8.34M343.5 416.3v8.34M318.3 420.5h8.34M322.5 416.3v8.34M313.3 420.5h8.34M317.5 416.3v8.34M329.3 420.5h8.34M333.5 416.3v8.34M325.3 420.5h8.34M329.5 416.3v8.34M320.3 420.5h8.34M324.5 416.3v8.34M320.3 420.5h8.34M324.5 416.3v8.34M327.3 421.5h8.34M331.5 417.3v8.34M277.3 421.5h8.34M281.5 417.3v8.34M287.3 422.5h8.34M291.5 418.3v8.34M336.3 421.5h8.34M340.5 417.3v8.34M335.3 421.5h8.34M339.5 417.3v8.34M303.3 421.5h8.34M307.5 417.3v8.34M301.3 421.5h8.34M305.5 417.3v8.34M301.3 421.5h8.34M305.5 417.3v8.34M319.3 421.5h8.34M323.5 417.3v8.34M329.3 421.5h8.34M333.5 417.3v8.34M301.3 421.5h8.34M305.5 417.3v8.34M304.3 421.5h8.34M308.5 417.3v8.34M317.3 421.5h8.34M321.5 417.3v8.34M334.3 422.5h8.34M338.5 418.3v8.34M311.3 422.5h8.34M315.5 418.3v8.34M322.3 422.5h8.34M326.5 418.3v8.34M327.3 422.5h8.34M331.5 418.3v8.34M325.3 422.5h8.34M329.5 418.3v8.34M293.3 422.5h8.34M297.5 418.3v8.34M291.3 422.5h8.34M295.5 418.3v8.34M344.3 422.5h8.34M348.5 418.3v8.34M315.3 422.5h8.34M319.5 418.3v8.34M326.3 422.5h8.34M330.5 418.3v8.34M316.3 423.5h8.34M320.5 419.3v8.34M307.3 423.5h8.34M311.5 419.3v8.34M289.3 423.5h8.34M293.5 419.3v8.34M309.3 423.5h8.34M313.5 419.3v8.34M317.3 423.5h8.34M321.5 419.3v8.34M327.3 423.5h8.34M331.5 419.3v8.34M318.3 423.5h8.34M322.5 419.3v8.34M331.3 423.5h8.34M335.5 419.3v8.34M334.3 423.5h8.34M338.5 419.3v8.34M317.3 423.5h8.34M321.5 419.3v8.34M300.3 423.5h8.34M304.5 419.3v8.34M302.3 423.5h8.34M306.5 419.3v8.34M299.3 424.5h8.34M303.5 420.3v8.34M292.3 424.5h8.34M296.5 420.3v8.34M313.3 424.5h8.34M317.5 420.3v8.34M312.3 425.5h8.34M316.5 421.3v8.34M312.3 424.5h8.34M316.5 420.3v8.34M356.3 425.5h8.34M360.5 421.3v8.34M319.3 425.5h8.34M323.5 421.3v8.34M320.3 425.5h8.34M324.5 421.3v8.34M289.3 425.5h8.34M293.5 421.3v8.34M333.3 425.5h8.34M337.5 421.3v8.34M289.3 425.5h8.34M293.5 421.3v8.34M308.3 425.5h8.34M312.5 421.3v8.34M319.3 425.5h8.34M323.5 421.3v8.34M295.3 425.5h8.34M299.5 421.3v8.34M297.3 425.5h8.34M301.5 421.3v8.34M325.3 426.5h8.34M329.5 422.3v8.34M330.3 426.5h8.34M334.5 422.3v8.34M314.3 426.5h8.34M318.5 422.3v8.34M295.3 426.5h8.34M299.5 422.3v8.34M306.3 426.5h8.34M310.5 422.3v8.34M324.3 426.5h8.34M328.5 422.3v8.34M290.3 426.5h8.34M294.5 422.3v8.34M267.3 440.5h8.34M271.5 436.3v8.34M340.3 438.5h8.34M344.5 434.3v8.34M259.3 441.5h8.34M263.5 437.3v8.34M304.3 437.5h8.34M308.5 433.3v8.34M315.3 444.5h8.34M319.5 440.3v8.34M309.3 443.5h8.34M313.5 439.3v8.34M282.3 454.5h8.34M286.5 450.3v8.34M319.3 434.5h8.34M323.5 430.3v8.34M255.3 431.5h8.34M259.5 427.3v8.34M347.3 440.5h8.34M351.5 436.3v8.34M277.3 455.5h8.34M281.5 451.3v8.34M314.3 440.5h8.34M318.5 436.3v8.34M293.3 445.5h8.34M297.5 441.3v8.34M259.3 438.5h8.34M263.5 434.3v8.34M308.3 437.5h8.34M312.5 433.3v8.34M265.3 431.5h8.34M269.5 427.3v8.34M331.3 457.5h8.34M335.5 453.3v8.34M340.3 435.5h8.34M344.5 431.3v8.34M340.3 436.5h8.34M344.5 432.3v8.34M275.3 429.5h8.34M279.5 425.3v8.34M328.3 440.5h8.34M332.5 436.3v8.34M341.3 439.5h8.34M345.5 435.3v8.34M286.3 428.5h8.34M290.5 424.3v8.34M308.3 450.5h8.34M312.5 446.3v8.34M325.3 442.5h8.34M329.5 438.3v8.34M297.3 456.5h8.34M301.5 452.3v8.34M349.3 443.5h8.34M353.5 439.3v8.34M258.3 429.5h8.34M262.5 425.3v8.34M352.3 444.5h8.34M356.5 440.3v8.34M323.3 433.5h8.34M327.5 429.3v8.34M262.3 438.5h8.34M266.5 434.3v8.34M316.3 439.5h8.34M320.5 435.3v8.34M266.3 430.5h8.34M270.5 426.3v8.34M343.3 445.5h8.34M347.5 441.3v8.34M294.3 433.5h8.34M298.5 429.3v8.34M341.3 450.5h8.34M345.5 446.3v8.34M354.3 434.5h8.34M358.5 430.3v8.34M280.3 427.5h8.34M284.5 423.3v8.34M301.3 431.5h8.34M305.5 427.3v8.34M288.3 441.5h8.34M292.5 437.3v8.34M257.3 435.5h8.34M261.5 431.3v8.34M312.3 444.5h8.34M316.5 440.3v8.34M338.3 444.5h8.34M342.5 440.3v8.34M245.3 430.5h8.34M249.5 426.3v8.34M278.3 454.5h8.34M282.5 450.3v8.34M326.3 440.5h8.34M330.5 436.3v8.34M313.3 448.5h8.34M317.5 444.3v8.34M305.3 448.5h8.34M309.5 444.3v8.34M272.3 442.5h8.34M276.5 438.3v8.34M331.3 440.5h8.34M335.5 436.3v8.34M348.3 442.5h8.34M352.5 438.3v8.34M331.3 443.5h8.34M335.5 439.3v8.34M280.3 447.5h8.34M284.5 443.3v8.34M305.3 437.5h8.34M309.5 433.3v8.34M267.3 438.5h8.34M271.5 434.3v8.34M249.3 439.5h8.34M253.5 435.3v8.34M294.3 444.5h8.34M298.5 440.3v8.34M344.3 431.5h8.34M348.5 427.3v8.34M254.3 442.5h8.34M258.5 438.3v8.34M300.3 438.5h8.34M304.5 434.3v8.34M287.3 429.5h8.34M291.5 425.3v8.34M253.3 439.5h8.34M257.5 435.3v8.34M360.3 438.5h8.34M364.5 434.3v8.34M350.3 445.5h8.34M354.5 441.3v8.34M322.3 444.5h8.34M326.5 440.3v8.34M335.3 443.5h8.34M339.5 439.3v8.34M321.3 443.5h8.34M325.5 439.3v8.34M277.3 440.5h8.34M281.5 436.3v8.34M268.3 434.5h8.34M272.5 430.3v8.34M333.3 453.5h8.34M337.5 449.3v8.34M260.3 436.5h8.34M264.5 432.3v8.34M313.3 428.5h8.34M317.5 424.3v8.34M280.3 451.5h8.34M284.5 447.3v8.34M270.3 446.5h8.34M274.5 442.3v8.34M262.3 433.5h8.34M266.5 429.3v8.34M334.3 430.5h8.34M338.5 426.3v8.34M304.3 436.5h8.34M308.5 432.3v8.34M331.3 448.5h8.34M335.5 444.3v8.34M269.3 439.5h8.34M273.5 435.3v8.34M319.3 434.5h8.34M323.5 430.3v8.34M293.3 439.5h8.34M297.5 435.3v8.34M311.3 447.5h8.34M315.5 443.3v8.34M320.3 448.5h8.34M324.5 444.3v8.34M292.3 452.5h8.34M296.5 448.3v8.34M255.3 450.5h8.34M259.5 446.3v8.34M311.3 445.5h8.34M315.5 441.3v8.34M304.3 449.5h8.34M308.5 445.3v8.34M343.3 434.5h8.34M347.5 430.3v8.34M271.3 450.5h8.34M275.5 446.3v8.34M260.3 438.5h8.34M264.5 434.3v8.34M300.3 444.5h8.34M304.5 440.3v8.34M262.3 444.5h8.34M266.5 440.3v8.34M318.3 452.5h8.34M322.5 448.3v8.34M266.3 439.5h8.34M270.5 435.3v8.34M293.3 444.5h8.34M297.5 440.3v8.34M268.3 443.5h8.34M272.5 439.3v8.34M272.3 432.5h8.34M276.5 428.3v8.34M250.3 450.5h8.34M254.5 446.3v8.34M318.3 435.5h8.34M322.5 431.3v8.34M324.3 430.5h8.34M328.5 426.3v8.34M302.3 434.5h8.34M306.5 430.3v8.34M300.3 430.5h8.34M304.5 426.3v8.34M348.3 456.5h8.34M352.5 452.3v8.34M264.3 447.5h8.34M268.5 443.3v8.34M269.3 435.5h8.34M273.5 431.3v8.34M306.3 441.5h8.34M310.5 437.3v8.34M324.3 435.5h8.34M328.5 431.3v8.34M268.3 454.5h8.34M272.5 450.3v8.34M295.3 452.5h8.34M299.5 448.3v8.34M309.3 444.5h8.34M313.5 440.3v8.34M339.3 440.5h8.34M343.5 436.3v8.34M341.3 446.5h8.34M345.5 442.3v8.34M295.3 440.5h8.34M299.5 436.3v8.34M305.3 442.5h8.34M309.5 438.3v8.34M320.3 437.5h8.34M324.5 433.3v8.34M293.3 454.5h8.34M297.5 450.3v8.34M335.3 441.5h8.34M339.5 437.3v8.34M360.3 425.5h8.34M364.5 421.3v8.34M255.3 429.5h8.34M259.5 425.3v8.34M266.3 440.5h8.34M270.5 436.3v8.34M265.3 437.5h8.34M269.5 433.3v8.34M314.3 446.5h8.34M318.5 442.3v8.34M286.3 435.5h8.34M290.5 431.3v8.34M268.3 434.5h8.34M272.5 430.3v8.34M347.3 453.5h8.34M351.5 449.3v8.34M301.3 439.5h8.34M305.5 435.3v8.34M336.3 442.5h8.34M340.5 438.3v8.34M345.3 453.5h8.34M349.5 449.3v8.34M348.3 441.5h8.34M352.5 437.3v8.34M266.3 440.5h8.34M270.5 436.3v8.34M342.3 444.5h8.34M346.5 440.3v8.34M280.3 441.5h8.34M284.5 437.3v8.34M276.3 445.5h8.34M280.5 441.3v8.34M304.3 449.5h8.34M308.5 445.3v8.34M301.3 433.5h8.34M305.5 429.3v8.34M304.3 425.5h8.34M308.5 421.3v8.34M271.3 447.5h8.34M275.5 443.3v8.34M318.3 436.5h8.34M322.5 432.3v8.34M376.3 429.5h8.34M380.5 425.3v8.34M322.3 433.5h8.34M326.5 429.3v8.34M312.3 442.5h8.34M316.5 438.3v8.34M333.3 425.5h8.34M337.5 421.3v8.34M283.3 442.5h8.34M287.5 438.3v8.34M327.3 444.5h8.34M331.5 440.3v8.34M358.3 435.5h8.34M362.5 431.3v8.34M371.3 447.5h8.34M375.5 443.3v8.34M267.3 448.5h8.34M271.5 444.3v8.34M326.3 427.5h8.34M330.5 423.3v8.34M311.3 445.5h8.34M315.5 441.3v8.34M299.3 434.5h8.34M303.5 430.3v8.34M247.3 440.5h8.34M251.5 436.3v8.34M275.3 443.5h8.34M279.5 439.3v8.34M313.3 451.5h8.34M317.5 447.3v8.34M273.3 441.5h8.34M277.5 437.3v8.34M349.3 446.5h8.34M353.5 442.3v8.34M312.3 431.5h8.34M316.5 427.3v8.34M309.3 437.5h8.34M313.5 433.3v8.34M296.3 430.5h8.34M300.5 426.3v8.34M294.3 438.5h8.34M298.5 434.3v8.34M340.3 428.5h8.34M344.5 424.3v8.34M336.3 432.5h8.34M340.5 428.3v8.34M327.3 432.5h8.34M331.5 428.3v8.34M356.3 438.5h8.34M360.5 434.3v8.34M266.3 432.5h8.34M270.5 428.3v8.34M286.3 447.5h8.34M290.5 443.3v8.34M339.3 436.5h8.34M343.5 432.3v8.34M278.3 438.5h8.34M282.5 434.3v8.34M313.3 439.5h8.34M317.5 435.3v8.34M340.3 441.5h8.34M344.5 437.3v8.34M297.3 436.5h8.34M301.5 432.3v8.34M273.3 433.5h8.34M277.5 429.3v8.34M301.3 440.5h8.34M305.5 436.3v8.34M293.3 445.5h8.34M297.5 441.3v8.34M338.3 438.5h8.34M342.5 434.3v8.34M284.3 440.5h8.34M288.5 436.3v8.34M327.3 442.5h8.34M331.5 438.3v8.34M335.3 439.5h8.34M339.5 435.3v8.34M303.3 439.5h8.34M307.5 435.3v8.34M293.3 456.5h8.34M297.5 452.3v8.34M322.3 446.5h8.34M326.5 442.3v8.34M306.3 443.5h8.34M310.5 439.3v8.34M254.3 438.5h8.34M258.5 434.3v8.34M332.3 435.5h8.34M336.5 431.3v8.34M251.3 438.5h8.34M255.5 434.3v8.34M267.3 445.5h8.34M271.5 441.3v8.34M261.3 443.5h8.34M265.5 439.3v8.34M335.3 444.5h8.34M339.5 440.3v8.34M274.3 445.5h8.34M278.5 441.3v8.34M313.3 437.5h8.34M317.5 433.3v8.34M282.3 449.5h8.34M286.5 445.3v8.34M275.3 440.5h8.34M279.5 436.3v8.34M328.3 434.5h8.34M332.5 430.3v8.34M266.3 442.5h8.34M270.5 438.3v8.34M267.3 447.5h8.34M271.5 443.3v8.34M315.3 435.5h8.34M319.5 431.3v8.34M332.3 440.5h8.34M336.5 436.3v8.34M286.3 452.5h8.34M290.5 448.3v8.34M318.3 438.5h8.34M322.5 434.3v8.34M334.3 441.5h8.34M338.5 437.3v8.34M326.3 426.5h8.34M330.5 422.3v8.34M305.3 451.5h8.34M309.5 447.3v8.34M321.3 438.5h8.34M325.5 434.3v8.34M353.3 435.5h8.34M357.5 431.3v8.34M351.3 446.5h8.34M355.5 442.3v8.34M283.3 448.5h8.34M287.5 444.3v8.34M293.3 441.5h8.34M297.5 437.3v8.34M300.3 447.5h8.34M304.5 443.3v8.34M268.3 448.5h8.34M272.5 444.3v8.34M313.3 440.5h8.34M317.5 436.3v8.34M303.3 444.5h8.34M307.5 440.3v8.34M248.3 436.5h8.34M252.5 432.3v8.34M286.3 429.5h8.34M290.5 425.3v8.34M249.3 447.5h8.34M253.5 443.3v8.34M337.3 444.5h8.34M341.5 440.3v8.34M261.3 443.5h8.34M265.5 439.3v8.34M303.3 445.5h8.34M307.5 441.3v8.34M300.3 442.5h8.34M304.5 438.3v8.34M296.3 443.5h8.34M300.5 439.3v8.34M331.3 436.5h8.34M335.5 432.3v8.34M313.3 438.5h8.34M317.5 434.3v8.34M321.3 437.5h8.34M325.5 433.3v8.34M257.3 439.5h8.34M261.5 435.3v8.34M252.3 434.5h8.34M256.5 430.3v8.34M329.3 433.5h8.34M333.5 429.3v8.34M270.3 446.5h8.34M274.5 442.3v8.34M292.3 437.5h8.34M296.5 433.3v8.34M333.3 440.5h8.34M337.5 436.3v8.34M287.3 448.5h8.34M291.5 444.3v8.34M328.3 448.5h8.34M332.5 444.3v8.34M342.3 449.5h8.34M346.5 445.3v8.34M354.3 446.5h8.34M358.5 442.3v8.34M329.3 446.5h8.34M333.5 442.3v8.34M317.3 436.5h8.34M321.5 432.3v8.34M270.3 439.5h8.34M274.5 435.3v8.34M313.3 434.5h8.34M317.5 430.3v8.34M293.3 427.5h8.34M297.5 423.3v8.34M372.3 430.5h8.34M376.5 426.3v8.34M245.3 438.5h8.34M249.5 434.3v8.34M287.3 442.5h8.34M291.5 438.3v8.34M313.3 438.5h8.34M317.5 434.3v8.34M252.3 442.5h8.34M256.5 438.3v8.34M350.3 436.5h8.34M354.5 432.3v8.34M300.3 436.5h8.34M304.5 432.3v8.34M263.3 440.5h8.34M267.5 436.3v8.34M309.3 446.5h8.34M313.5 442.3v8.34M319.3 440.5h8.34M323.5 436.3v8.34M280.3 442.5h8.34M284.5 438.3v8.34M269.3 448.5h8.34M273.5 444.3v8.34M281.3 434.5h8.34M285.5 430.3v8.34M319.3 434.5h8.34M323.5 430.3v8.34M248.3 437.5h8.34M252.5 433.3v8.34M333.3 432.5h8.34M337.5 428.3v8.34M327.3 441.5h8.34M331.5 437.3v8.34M262.3 442.5h8.34M266.5 438.3v8.34M296.3 446.5h8.34M300.5 442.3v8.34M335.3 433.5h8.34M339.5 429.3v8.34M274.3 456.5h8.34M278.5 452.3v8.34M332.3 455.5h8.34M336.5 451.3v8.34M311.3 432.5h8.34M315.5 428.3v8.34M276.3 442.5h8.34M280.5 438.3v8.34M296.3 443.5h8.34M300.5 439.3v8.34M322.3 437.5h8.34M326.5 433.3v8.34M258.3 443.5h8.34M262.5 439.3v8.34M251.3 455.5h8.34M255.5 451.3v8.34M329.3 432.5h8.34M333.5 428.3v8.34M315.3 435.5h8.34M319.5 431.3v8.34M351.3 434.5h8.34M355.5 430.3v8.34M336.3 447.5h8.34M340.5 443.3v8.34M315.3 449.5h8.34M319.5 445.3v8.34M321.3 433.5h8.34M325.5 429.3v8.34M258.3 432.5h8.34M262.5 428.3v8.34M280.3 448.5h8.34M284.5 444.3v8.34M299.3 444.5h8.34M303.5 440.3v8.34M328.3 427.5h8.34M332.5 423.3v8.34M256.3 437.5h8.34M260.5 433.3v8.34M312.3 433.5h8.34M316.5 429.3v8.34M353.3 434.5h8.34M357.5 430.3v8.34M315.3 442.5h8.34M319.5 438.3v8.34M265.3 438.5h8.34M269.5 434.3v8.34M300.3 441.5h8.34M304.5 437.3v8.34M325.3 428.5h8.34M329.5 424.3v8.34M328.3 441.5h8.34M332.5 437.3v8.34M303.3 427.5h8.34M307.5 423.3v8.34M246.3 442.5h8.34M250.5 438.3v8.34M345.3 445.5h8.34M349.5 441.3v8.34M290.3 440.5h8.34M294.5 436.3v8.34M291.3 439.5h8.34M295.5 435.3v8.34M265.3 439.5h8.34M269.5 435.3v8.34M270.3 442.5h8.34M274.5 438.3v8.34M246.3 428.5h8.34M250.5 424.3v8.34M301.3 437.5h8.34M305.5 433.3v8.34M266.3 447.5h8.34M270.5 443.3v8.34M299.3 435.5h8.34M303.5 431.3v8.34M318.3 436.5h8.34M322.5 432.3v8.34M266.3 434.5h8.34M270.5 430.3v8.34M337.3 445.5h8.34M341.5 441.3v8.34M334.3 440.5h8.34M338.5 436.3v8.34M286.3 446.5h8.34M290.5 442.3v8.34M288.3 439.5h8.34M292.5 435.3v8.34M314.3 442.5h8.34M318.5 438.3v8.34M256.3 439.5h8.34M260.5 435.3v8.34M293.3 450.5h8.34M297.5 446.3v8.34M300.3 438.5h8.34M304.5 434.3v8.34M255.3 435.5h8.34M259.5 431.3v8.34M263.3 441.5h8.34M267.5 437.3v8.34M270.3 441.5h8.34M274.5 437.3v8.34M317.3 442.5h8.34M321.5 438.3v8.34M364.3 452.5h8.34M368.5 448.3v8.34M307.3 449.5h8.34M311.5 445.3v8.34M320.3 444.5h8.34M324.5 440.3v8.34M347.3 455.5h8.34M351.5 451.3v8.34M264.3 438.5h8.34M268.5 434.3v8.34M256.3 441.5h8.34M260.5 437.3v8.34M342.3 447.5h8.34M346.5 443.3v8.34M251.3 436.5h8.34M255.5 432.3v8.34M264.3 445.5h8.34M268.5 441.3v8.34M320.3 429.5h8.34M324.5 425.3v8.34M295.3 441.5h8.34M299.5 437.3v8.34M265.3 443.5h8.34M269.5 439.3v8.34M262.3 443.5h8.34M266.5 439.3v8.34M314.3 442.5h8.34M318.5 438.3v8.34M298.3 440.5h8.34M302.5 436.3v8.34M375.3 444.5h8.34M379.5 440.3v8.34M372.3 442.5h8.34M376.5 438.3v8.34M275.3 433.5h8.34M279.5 429.3v8.34M314.3 448.5h8.34M318.5 444.3v8.34M348.3 446.5h8.34M352.5 442.3v8.34M358.3 443.5h8.34M362.5 439.3v8.34M286.3 430.5h8.34M290.5 426.3v8.34M303.3 439.5h8.34M307.5 435.3v8.34M264.3 444.5h8.34M268.5 440.3v8.34M376.3 450.5h8.34M380.5 446.3v8.34M338.3 440.5h8.34M342.5 436.3v8.34M345.3 440.5h8.34M349.5 436.3v8.34M320.3 435.5h8.34M324.5 431.3v8.34M276.3 449.5h8.34M280.5 445.3v8.34M268.3 436.5h8.34M272.5 432.3v8.34M293.3 440.5h8.34M297.5 436.3v8.34M372.3 430.5h8.34M376.5 426.3v8.34M298.3 446.5h8.34M302.5 442.3v8.34M307.3 431.5h8.34M311.5 427.3v8.34M300.3 450.5h8.34M304.5 446.3v8.34M321.3 438.5h8.34M325.5 434.3v8.34M326.3 444.5h8.34M330.5 440.3v8.34M292.3 450.5h8.34M296.5 446.3v8.34M329.3 454.5h8.34M333.5 450.3v8.34M339.3 455.5h8.34M343.5 451.3v8.34M248.3 440.5h8.34M252.5 436.3v8.34M301.3 444.5h8.34M305.5 440.3v8.34M338.3 439.5h8.34M342.5 435.3v8.34M312.3 451.5h8.34M316.5 447.3v8.34M302.3 445.5h8.34M306.5 441.3v8.34M343.3 434.5h8.34M347.5 430.3v8.34M287.3 436.5h8.34M291.5 432.3v8.34M300.3 444.5h8.34M304.5 440.3v8.34M332.3 444.5h8.34M336.5 440.3v8.34M324.3 449.5h8.34M328.5 445.3v8.34M360.3 446.5h8.34M364.5 442.3v8.34M313.3 444.5h8.34M317.5 440.3v8.34M324.3 448.5h8.34M328.5 444.3v8.34M339.3 433.5h8.34M343.5 429.3v8.34M333.3 442.5h8.34M337.5 438.3v8.34M288.3 447.5h8.34M292.5 443.3v8.34M341.3 430.5h8.34M345.5 426.3v8.34M304.3 442.5h8.34M308.5 438.3v8.34M309.3 455.5h8.34M313.5 451.3v8.34M312.3 431.5h8.34M316.5 427.3v8.34M294.3 447.5h8.34M298.5 443.3v8.34M270.3 438.5h8.34M274.5 434.3v8.34M352.3 441.5h8.34M356.5 437.3v8.34M260.3 432.5h8.34M264.5 428.3v8.34M310.3 444.5h8.34M314.5 440.3v8.34M274.3 439.5h8.34M278.5 435.3v8.34M345.3 442.5h8.34M349.5 438.3v8.34M259.3 437.5h8.34M263.5 433.3v8.34M296.3 430.5h8.34M300.5 426.3v8.34M302.3 438.5h8.34M306.5 434.3v8.34M271.3 438.5h8.34M275.5 434.3v8.34M317.3 431.5h8.34M321.5 427.3v8.34M264.3 453.5h8.34M268.5 449.3v8.34M301.3 438.5h8.34M305.5 434.3v8.34M367.3 433.5h8.34M371.5 429.3v8.34M294.3 447.5h8.34M298.5 443.3v8.34M324.3 449.5h8.34M328.5 445.3v8.34M283.3 433.5h8.34M287.5 429.3v8.34M334.3 437.5h8.34M338.5 433.3v8.34M285.3 447.5h8.34M289.5 443.3v8.34M278.3 446.5h8.34M282.5 442.3v8.34M297.3 436.5h8.34M301.5 432.3v8.34M289.3 443.5h8.34M293.5 439.3v8.34M316.3 442.5h8.34M320.5 438.3v8.34M345.3 443.5h8.34M349.5 439.3v8.34M256.3 441.5h8.34M260.5 437.3v8.34M300.3 456.5h8.34M304.5 452.3v8.34M335.3 449.5h8.34M339.5 445.3v8.34M360.3 435.5h8.34M364.5 431.3v8.34M287.3 434.5h8.34M291.5 430.3v8.34M336.3 442.5h8.34M340.5 438.3v8.34M339.3 449.5h8.34M343.5 445.3v8.34M289.3 439.5h8.34M293.5 435.3v8.34M304.3 424.5h8.34M308.5 420.3v8.34M298.3 433.5h8.34M302.5 429.3v8.34M268.3 446.5h8.34M272.5 442.3v8.34M316.3 431.5h8.34M320.5 427.3v8.34M284.3 448.5h8.34M288.5 444.3v8.34M348.3 430.5h8.34M352.5 426.3v8.34M260.3 449.5h8.34M264.5 445.3v8.34M269.3 429.5h8.34M273.5 425.3v8.34M319.3 425.5h8.34M323.5 421.3v8.34M318.3 441.5h8.34M322.5 437.3v8.34M293.3 441.5h8.34M297.5 437.3v8.34M284.3 451.5h8.34M288.5 447.3v8.34M317.3 436.5h8.34M321.5 432.3v8.34M295.3 430.5h8.34M299.5 426.3v8.34M254.3 441.5h8.34M258.5 437.3v8.34M334.3 450.5h8.34M338.5 446.3v8.34M255.3 447.5h8.34M259.5 443.3v8.34M328.3 444.5h8.34M332.5 440.3v8.34M276.3 439.5h8.34M280.5 435.3v8.34M307.3 444.5h8.34M311.5 440.3v8.34M249.3 445.5h8.34M253.5 441.3v8.34M309.3 445.5h8.34M313.5 441.3v8.34M313.3 441.5h8.34M317.5 437.3v8.34M363.3 445.5h8.34M367.5 441.3v8.34M286.3 447.5h8.34M290.5 443.3v8.34M291.3 451.5h8.34M295.5 447.3v8.34M287.3 442.5h8.34M291.5 438.3v8.34M306.3 435.5h8.34M310.5 431.3v8.34M297.3 452.5h8.34M301.5 448.3v8.34M313.3 438.5h8.34M317.5 434.3v8.34M272.3 432.5h8.34M276.5 428.3v8.34M291.3 439.5h8.34M295.5 435.3v8.34M281.3 430.5h8.34M285.5 426.3v8.34M260.3 443.5h8.34M264.5 439.3v8.34M300.3 447.5h8.34M304.5 443.3v8.34M310.3 439.5h8.34M314.5 435.3v8.34M348.3 433.5h8.34M352.5 429.3v8.34M326.3 446.5h8.34M330.5 442.3v8.34M292.3 438.5h8.34M296.5 434.3v8.34M323.3 436.5h8.34M327.5 432.3v8.34M354.3 429.5h8.34M358.5 425.3v8.34M288.3 447.5h8.34M292.5 443.3v8.34M333.3 433.5h8.34M337.5 429.3v8.34M265.3 436.5h8.34M269.5 432.3v8.34M306.3 440.5h8.34M310.5 436.3v8.34M336.3 440.5h8.34M340.5 436.3v8.34M276.3 432.5h8.34M280.5 428.3v8.34M319.3 435.5h8.34M323.5 431.3v8.34M286.3 454.5h8.34M290.5 450.3v8.34M335.3 441.5h8.34M339.5 437.3v8.34M346.3 441.5h8.34M350.5 437.3v8.34M353.3 442.5h8.34M357.5 438.3v8.34M310.3 432.5h8.34M314.5 428.3v8.34M299.3 444.5h8.34M303.5 440.3v8.34M283.3 438.5h8.34M287.5 434.3v8.34M296.3 434.5h8.34M300.5 430.3v8.34M329.3 436.5h8.34M333.5 432.3v8.34M311.3 447.5h8.34M315.5 443.3v8.34M294.3 437.5h8.34M298.5 433.3v8.34M299.3 429.5h8.34M303.5 425.3v8.34M308.3 446.5h8.34M312.5 442.3v8.34M327.3 443.5h8.34M331.5 439.3v8.34M329.3 430.5h8.34M333.5 426.3v8.34M348.3 448.5h8.34M352.5 444.3v8.34M330.3 444.5h8.34M334.5 440.3v8.34M274.3 443.5h8.34M278.5 439.3v8.34M254.3 438.5h8.34M258.5 434.3v8.34M368.3 439.5h8.34M372.5 435.3v8.34M286.3 445.5h8.34M290.5 441.3v8.34M287.3 444.5h8.34M291.5 440.3v8.34M365.3 449.5h8.34M369.5 445.3v8.34M251.3 443.5h8.34M255.5 439.3v8.34M286.3 447.5h8.34M290.5 443.3v8.34M288.3 433.5h8.34M292.5 429.3v8.34M341.3 453.5h8.34M345.5 449.3v8.34M327.3 443.5h8.34M331.5 439.3v8.34M349.3 445.5h8.34M353.5 441.3v8.34M263.3 446.5h8.34M267.5 442.3v8.34M329.3 444.5h8.34M333.5 440.3v8.34M298.3 440.5h8.34M302.5 436.3v8.34M290.3 64.5h8.34M294.5 60.3v8.34M252.3 58.5h8.34M256.5 54.3v8.34M267.3 58.5h8.34M271.5 54.3v8.34M321.3 59.5h8.34M325.5 55.3v8.34M332.3 59.5h8.34M336.5 55.3v8.34M297.3 73.5h8.34M301.5 69.3v8.34M324.3 72.5h8.34M328.5 68.3v8.34M188.3 254.5h8.34M192.5 250.3v8.34M188.3 257.5h8.34M192.5 253.3v8.34M159.3 268.5h8.34M163.5 264.3v8.34M197.3 275.5h8.34M201.5 271.3v8.34M187.3 306.5h8.34M191.5 302.3v8.34M196.3 302.5h8.34M200.5 298.3v8.34M196.3 312.5h8.34M200.5 308.3v8.34M206.3 278.5h8.34M210.5 274.3v8.34M238.3 278.5h8.34M242.5 274.3v8.34M245.3 275.5h8.34M249.5 271.3v8.34M250.3 263.5h8.34M254.5 259.3v8.34M255.3 257.5h8.34M259.5 253.3v8.34M201.3 319.5h8.34M205.5 315.3v8.34M279.3 260.5h8.34M283.5 256.3v8.34M276.3 260.5h8.34M280.5 256.3v8.34M282.3 261.5h8.34M286.5 257.3v8.34M273.3 272.5h8.34M277.5 268.3v8.34M278.3 268.5h8.34M282.5 264.3v8.34M281.3 277.5h8.34M285.5 273.3v8.34M265.3 295.5h8.34M269.5 291.3v8.34M268.3 291.5h8.34M272.5 287.3v8.34M276.3 293.5h8.34M280.5 289.3v8.34M278.3 288.5h8.34M282.5 284.3v8.34M276.3 300.5h8.34M280.5 296.3v8.34M266.3 306.5h8.34M270.5 302.3v8.34M268.3 308.5h8.34M272.5 304.3v8.34M276.3 303.5h8.34M280.5 299.3v8.34M266.3 318.5h8.34M270.5 314.3v8.34M276.3 315.5h8.34M280.5 311.3v8.34M322.3 253.5h8.34M326.5 249.3v8.34M318.3 269.5h8.34M322.5 265.3v8.34M321.3 307.5h8.34M325.5 303.3v8.34M310.3 275.5h8.34M314.5 271.3v8.34M308.3 305.5h8.34M312.5 301.3v8.34M304.3 261.5h8.34M308.5 257.3v8.34M301.3 254.5h8.34M305.5 250.3v8.34M292.3 253.5h8.34M296.5 249.3v8.34M191.3 324.5h8.34M195.5 320.3v8.34M195.3 329.5h8.34M199.5 325.3v8.34M182.3 327.5h8.34M186.5 323.3v8.34M183.3 332.5h8.34M187.5 328.3v8.34M185.3 335.5h8.34M189.5 331.3v8.34M185.3 344.5h8.34M189.5 340.3v8.34M185.3 350.5h8.34M189.5 346.3v8.34M181.3 351.5h8.34M185.5 347.3v8.34M179.3 357.5h8.34M183.5 353.3v8.34M188.3 356.5h8.34M192.5 352.3v8.34M184.3 359.5h8.34M188.5 355.3v8.34M196.3 338.5h8.34M200.5 334.3v8.34M176.3 371.5h8.34M180.5 367.3v8.34M181.3 373.5h8.34M185.5 369.3v8.34M192.3 370.5h8.34M196.5 366.3v8.34M201.3 320.5h8.34M205.5 316.3v8.34M201.3 328.5h8.34M205.5 324.3v8.34M197.3 330.5h8.34M201.5 326.3v8.34M208.3 332.5h8.34M212.5 328.3v8.34M198.3 338.5h8.34M202.5 334.3v8.34M206.3 339.5h8.34M210.5 335.3v8.34M208.3 339.5h8.34M212.5 335.3v8.34M212.3 349.5h8.34M216.5 345.3v8.34M209.3 359.5h8.34M213.5 355.3v8.34M209.3 373.5h8.34M213.5 369.3v8.34M238.3 369.5h8.34M242.5 365.3v8.34M254.3 346.5h8.34M258.5 342.3v8.34M261.3 346.5h8.34M265.5 342.3v8.34M259.3 352.5h8.34M263.5 348.3v8.34M266.3 353.5h8.34M270.5 349.3v8.34M274.3 352.5h8.34M278.5 348.3v8.34M272.3 340.5h8.34M276.5 336.3v8.34M258.3 364.5h8.34M262.5 360.3v8.34M270.3 360.5h8.34M274.5 356.3v8.34M269.3 365.5h8.34M273.5 361.3v8.34M256.3 372.5h8.34M260.5 368.3v8.34M257.3 372.5h8.34M261.5 368.3v8.34M266.3 319.5h8.34M270.5 315.3v8.34M269.3 323.5h8.34M273.5 319.3v8.34M273.3 327.5h8.34M277.5 323.3v8.34M274.3 315.5h8.34M278.5 311.3v8.34M275.3 315.5h8.34M279.5 311.3v8.34M274.3 304.5h8.34M278.5 300.3v8.34M278.3 362.5h8.34M282.5 358.3v8.34M281.3 357.5h8.34M285.5 353.3v8.34M316.3 323.5h8.34M320.5 319.3v8.34M328.3 337.5h8.34M332.5 333.3v8.34M316.3 335.5h8.34M320.5 331.3v8.34M315.3 340.5h8.34M319.5 336.3v8.34M322.3 349.5h8.34M326.5 345.3v8.34M319.3 350.5h8.34M323.5 346.3v8.34M321.3 352.5h8.34M325.5 348.3v8.34M316.3 351.5h8.34M320.5 347.3v8.34M324.3 369.5h8.34M328.5 365.3v8.34M308.3 305.5h8.34M312.5 301.3v8.34M310.3 317.5h8.34M314.5 313.3v8.34M309.3 331.5h8.34M313.5 327.3v8.34M184.3 381.5h8.34M188.5 377.3v8.34M189.3 386.5h8.34M193.5 382.3v8.34M193.3 378.5h8.34M197.5 374.3v8.34M191.3 385.5h8.34M195.5 381.3v8.34M194.3 393.5h8.34M198.5 389.3v8.34M189.3 398.5h8.34M193.5 394.3v8.34M194.3 401.5h8.34M198.5 397.3v8.34M189.3 408.5h8.34M193.5 404.3v8.34M175.3 410.5h8.34M179.5 406.3v8.34M182.3 417.5h8.34M186.5 413.3v8.34M185.3 419.5h8.34M189.5 415.3v8.34M181.3 375.5h8.34M185.5 371.3v8.34M228.3 382.5h8.34M232.5 378.3v8.34M242.3 376.5h8.34M246.5 372.3v8.34M254.3 382.5h8.34M258.5 378.3v8.34M264.3 384.5h8.34M268.5 380.3v8.34M257.3 375.5h8.34M261.5 371.3v8.34M197.3 387.5h8.34M201.5 383.3v8.34M197.3 394.5h8.34M201.5 390.3v8.34M197.3 401.5h8.34M201.5 397.3v8.34M211.3 402.5h8.34M215.5 398.3v8.34M240.3 403.5h8.34M244.5 399.3v8.34M259.3 415.5h8.34M263.5 411.3v8.34M266.3 401.5h8.34M270.5 397.3v8.34M265.3 398.5h8.34M269.5 394.3v8.34M267.3 392.5h8.34M271.5 388.3v8.34M277.3 418.5h8.34M281.5 414.3v8.34M276.3 380.5h8.34M280.5 376.3v8.34M129.3 492.5h8.34M133.5 488.3v8.34M252.3 464.5h8.34M256.5 460.3v8.34M265.3 465.5h8.34M269.5 461.3v8.34M267.3 460.5h8.34M271.5 456.3v8.34M291.3 475.5h8.34M295.5 471.3v8.34M299.3 459.5h8.34M303.5 455.3v8.34M318.3 466.5h8.34M322.5 462.3v8.34M333.3 467.5h8.34M337.5 463.3v8.34M327.3 476.5h8.34M331.5 472.3v8.34M355.3 469.5h8.34M359.5 465.3v8.34M345.3 460.5h8.34M349.5 456.3v8.34M358.3 458.5h8.34M362.5 454.3v8.34M314.3 461.5h8.34M318.5 457.3v8.34M292.3 252.5h8.34M296.5 248.3v8.34M302.3 252.5h8.34M306.5 248.3v8.34M322.3 253.5h8.34M326.5 249.3v8.34M279.3 259.5h8.34M283.5 255.3v8.34M279.3 260.5h8.34M283.5 256.3v8.34M280.3 259.5h8.34M284.5 255.3v8.34M281.3 262.5h8.34M285.5 258.3v8.34M288.3 259.5h8.34M292.5 255.3v8.34M291.3 261.5h8.34M295.5 257.3v8.34M292.3 262.5h8.34M296.5 258.3v8.34M291.3 263.5h8.34M295.5 259.3v8.34M299.3 261.5h8.34M303.5 257.3v8.34M304.3 261.5h8.34M308.5 257.3v8.34M306.3 262.5h8.34M310.5 258.3v8.34M278.3 268.5h8.34M282.5 264.3v8.34M273.3 272.5h8.34M277.5 268.3v8.34M318.3 269.5h8.34M322.5 265.3v8.34M289.3 266.5h8.34M293.5 262.3v8.34M292.3 265.5h8.34M296.5 261.3v8.34M299.3 269.5h8.34M303.5 265.3v8.34M293.3 272.5h8.34M297.5 268.3v8.34M296.3 272.5h8.34M300.5 268.3v8.34M300.3 272.5h8.34M304.5 268.3v8.34M307.3 272.5h8.34M311.5 268.3v8.34M310.3 276.5h8.34M314.5 272.3v8.34M310.3 276.5h8.34M314.5 272.3v8.34M280.3 277.5h8.34M284.5 273.3v8.34M286.3 275.5h8.34M290.5 271.3v8.34M285.3 279.5h8.34M289.5 275.3v8.34M289.3 278.5h8.34M293.5 274.3v8.34M293.3 277.5h8.34M297.5 273.3v8.34M296.3 278.5h8.34M300.5 274.3v8.34M300.3 277.5h8.34M304.5 273.3v8.34M285.3 283.5h8.34M289.5 279.3v8.34M285.3 283.5h8.34M289.5 279.3v8.34M287.3 282.5h8.34M291.5 278.3v8.34M289.3 281.5h8.34M293.5 277.3v8.34M292.3 282.5h8.34M296.5 278.3v8.34M296.3 283.5h8.34M300.5 279.3v8.34M299.3 283.5h8.34M303.5 279.3v8.34M297.3 286.5h8.34M301.5 282.3v8.34M278.3 288.5h8.34M282.5 284.3v8.34M282.3 291.5h8.34M286.5 287.3v8.34M268.3 291.5h8.34M272.5 287.3v8.34M265.3 295.5h8.34M269.5 291.3v8.34M275.3 293.5h8.34M279.5 289.3v8.34M292.3 288.5h8.34M296.5 284.3v8.34M295.3 289.5h8.34M299.5 285.3v8.34M294.3 292.5h8.34M298.5 288.3v8.34M296.3 292.5h8.34M300.5 288.3v8.34M292.3 295.5h8.34M296.5 291.3v8.34M295.3 296.5h8.34M299.5 292.3v8.34M298.3 297.5h8.34M302.5 293.3v8.34M302.3 296.5h8.34M306.5 292.3v8.34M287.3 297.5h8.34M291.5 293.3v8.34M275.3 299.5h8.34M279.5 295.3v8.34M285.3 302.5h8.34M289.5 298.3v8.34M294.3 300.5h8.34M298.5 296.3v8.34M297.3 300.5h8.34M301.5 296.3v8.34M300.3 301.5h8.34M304.5 297.3v8.34M303.3 302.5h8.34M307.5 298.3v8.34M308.3 304.5h8.34M312.5 300.3v8.34M321.3 307.5h8.34M325.5 303.3v8.34M266.3 306.5h8.34M270.5 302.3v8.34M275.3 304.5h8.34M279.5 300.3v8.34M281.3 306.5h8.34M285.5 302.3v8.34M290.3 306.5h8.34M294.5 302.3v8.34M295.3 305.5h8.34M299.5 301.3v8.34M299.3 306.5h8.34M303.5 302.3v8.34M306.3 307.5h8.34M310.5 303.3v8.34M339.3 380.5h8.34M343.5 376.3v8.34M344.3 390.5h8.34M348.5 386.3v8.34M344.3 393.5h8.34M348.5 389.3v8.34M352.3 403.5h8.34M356.5 399.3v8.34M351.3 412.5h8.34M355.5 408.3v8.34M348.3 416.5h8.34M352.5 412.3v8.34M340.3 398.5h8.34M344.5 394.3v8.34M341.3 401.5h8.34M345.5 397.3v8.34M325.3 381.5h8.34M329.5 377.3v8.34M329.3 392.5h8.34M333.5 388.3v8.34M375.3 423.5h8.34M379.5 419.3v8.34M356.3 425.5h8.34M360.5 421.3v8.34M359.3 427.5h8.34M363.5 423.3v8.34M368.3 430.5h8.34M372.5 426.3v8.34M371.3 427.5h8.34M375.5 423.3v8.34M367.3 433.5h8.34M371.5 429.3v8.34M359.3 447.5h8.34M363.5 443.3v8.34M367.3 445.5h8.34M371.5 441.3v8.34"/>
<path class="bx" d="M238.3 274.3l8.34 8.34M238.3 282.7l8.34 -8.34M208.3 327.3l8.34 8.34M208.3 335.7l8.34 -8.34M208.3 329.3l8.34 8.34M208.3 337.7l8.34 -8.34M238.3 365.3l8.34 8.34M238.3 373.7l8.34 -8.34M228.3 378.3l8.34 8.34M228.3 386.7l8.34 -8.34M240.3 399.3l8.34 8.34M240.3 407.7l8.34 -8.34M200.3 428.3l8.34 8.34M200.3 436.7l8.34 -8.34M186.3 429.3l8.34 8.34M186.3 437.7l8.34 -8.34M207.3 442.3l8.34 8.34M207.3 450.7l8.34 -8.34M195.3 439.3l8.34 8.34M195.3 447.7l8.34 -8.34M218.3 437.3l8.34 8.34M218.3 445.7l8.34 -8.34M227.3 433.3l8.34 8.34M227.3 441.7l8.34 -8.34M239.3 428.3l8.34 8.34M239.3 436.7l8.34 -8.34M177.3 428.3l8.34 8.34M177.3 436.7l8.34 -8.34M234.3 430.3l8.34 8.34M234.3 438.7l8.34 -8.34M217.3 441.3l8.34 8.34M217.3 449.7l8.34 -8.34M205.3 439.3l8.34 8.34M205.3 447.7l8.34 -8.34M235.3 443.3l8.34 8.34M235.3 451.7l8.34 -8.34M200.3 429.3l8.34 8.34M200.3 437.7l8.34 -8.34M206.3 438.3l8.34 8.34M206.3 446.7l8.34 -8.34M230.3 428.3l8.34 8.34M230.3 436.7l8.34 -8.34M211.3 442.3l8.34 8.34M211.3 450.7l8.34 -8.34M241.3 438.3l8.34 8.34M241.3 446.7l8.34 -8.34M203.3 437.3l8.34 8.34M203.3 445.7l8.34 -8.34M212.3 443.3l8.34 8.34M212.3 451.7l8.34 -8.34M191.3 444.3l8.34 8.34M191.3 452.7l8.34 -8.34M232.3 425.3l8.34 8.34M232.3 433.7l8.34 -8.34M180.3 423.3l8.34 8.34M180.3 431.7l8.34 -8.34M235.3 422.3l8.34 8.34M235.3 430.7l8.34 -8.34M192.3 438.3l8.34 8.34M192.3 446.7l8.34 -8.34M239.3 428.3l8.34 8.34M239.3 436.7l8.34 -8.34M209.3 441.3l8.34 8.34M209.3 449.7l8.34 -8.34M223.3 436.3l8.34 8.34M223.3 444.7l8.34 -8.34M210.3 444.3l8.34 8.34M210.3 452.7l8.34 -8.34M241.3 438.3l8.34 8.34M241.3 446.7l8.34 -8.34M225.3 441.3l8.34 8.34M225.3 449.7l8.34 -8.34M212.3 436.3l8.34 8.34M212.3 444.7l8.34 -8.34M230.3 438.3l8.34 8.34M230.3 446.7l8.34 -8.34M228.3 438.3l8.34 8.34M228.3 446.7l8.34 -8.34M181.3 428.3l8.34 8.34M181.3 436.7l8.34 -8.34M203.3 430.3l8.34 8.34M203.3 438.7l8.34 -8.34M221.3 442.3l8.34 8.34M221.3 450.7l8.34 -8.34M212.3 441.3l8.34 8.34M212.3 449.7l8.34 -8.34M198.3 437.3l8.34 8.34M198.3 445.7l8.34 -8.34M210.3 431.3l8.34 8.34M210.3 439.7l8.34 -8.34M223.3 439.3l8.34 8.34M223.3 447.7l8.34 -8.34M209.3 436.3l8.34 8.34M209.3 444.7l8.34 -8.34M236.3 429.3l8.34 8.34M236.3 437.7l8.34 -8.34M211.3 431.3l8.34 8.34M211.3 439.7l8.34 -8.34M186.3 429.3l8.34 8.34M186.3 437.7l8.34 -8.34M233.3 427.3l8.34 8.34M233.3 435.7l8.34 -8.34M235.3 433.3l8.34 8.34M235.3 441.7l8.34 -8.34M208.3 436.3l8.34 8.34M208.3 444.7l8.34 -8.34M200.3 431.3l8.34 8.34M200.3 439.7l8.34 -8.34M222.3 435.3l8.34 8.34M222.3 443.7l8.34 -8.34M238.3 425.3l8.34 8.34M238.3 433.7l8.34 -8.34M177.3 427.3l8.34 8.34M177.3 435.7l8.34 -8.34M226.3 430.3l8.34 8.34M226.3 438.7l8.34 -8.34M214.3 442.3l8.34 8.34M214.3 450.7l8.34 -8.34M223.3 445.3l8.34 8.34M223.3 453.7l8.34 -8.34M205.3 437.3l8.34 8.34M205.3 445.7l8.34 -8.34M185.3 429.3l8.34 8.34M185.3 437.7l8.34 -8.34M233.3 436.3l8.34 8.34M233.3 444.7l8.34 -8.34M226.3 431.3l8.34 8.34M226.3 439.7l8.34 -8.34M196.3 423.3l8.34 8.34M196.3 431.7l8.34 -8.34M209.3 434.3l8.34 8.34M209.3 442.7l8.34 -8.34M202.3 438.3l8.34 8.34M202.3 446.7l8.34 -8.34M236.3 443.3l8.34 8.34M236.3 451.7l8.34 -8.34M218.3 426.3l8.34 8.34M218.3 434.7l8.34 -8.34M226.3 437.3l8.34 8.34M226.3 445.7l8.34 -8.34M201.3 442.3l8.34 8.34M201.3 450.7l8.34 -8.34M200.3 440.3l8.34 8.34M200.3 448.7l8.34 -8.34M228.3 433.3l8.34 8.34M228.3 441.7l8.34 -8.34M214.3 439.3l8.34 8.34M214.3 447.7l8.34 -8.34M198.3 430.3l8.34 8.34M198.3 438.7l8.34 -8.34M223.3 441.3l8.34 8.34M223.3 449.7l8.34 -8.34M224.3 437.3l8.34 8.34M224.3 445.7l8.34 -8.34M192.3 432.3l8.34 8.34M192.3 440.7l8.34 -8.34M240.3 438.3l8.34 8.34M240.3 446.7l8.34 -8.34M221.3 433.3l8.34 8.34M221.3 441.7l8.34 -8.34M228.3 444.3l8.34 8.34M228.3 452.7l8.34 -8.34M233.3 429.3l8.34 8.34M233.3 437.7l8.34 -8.34M191.3 437.3l8.34 8.34M191.3 445.7l8.34 -8.34M214.3 430.3l8.34 8.34M214.3 438.7l8.34 -8.34M178.3 431.3l8.34 8.34M178.3 439.7l8.34 -8.34M230.3 433.3l8.34 8.34M230.3 441.7l8.34 -8.34M182.3 432.3l8.34 8.34M182.3 440.7l8.34 -8.34M205.3 441.3l8.34 8.34M205.3 449.7l8.34 -8.34M195.3 430.3l8.34 8.34M195.3 438.7l8.34 -8.34M218.3 439.3l8.34 8.34M218.3 447.7l8.34 -8.34M191.3 433.3l8.34 8.34M191.3 441.7l8.34 -8.34M226.3 439.3l8.34 8.34M226.3 447.7l8.34 -8.34M187.3 432.3l8.34 8.34M187.3 440.7l8.34 -8.34M221.3 429.3l8.34 8.34M221.3 437.7l8.34 -8.34M237.3 440.3l8.34 8.34M237.3 448.7l8.34 -8.34M198.3 424.3l8.34 8.34M198.3 432.7l8.34 -8.34M230.3 425.3l8.34 8.34M230.3 433.7l8.34 -8.34M215.3 441.3l8.34 8.34M215.3 449.7l8.34 -8.34M181.3 435.3l8.34 8.34M181.3 443.7l8.34 -8.34M178.3 432.3l8.34 8.34M178.3 440.7l8.34 -8.34M209.3 440.3l8.34 8.34M209.3 448.7l8.34 -8.34M232.3 445.3l8.34 8.34M232.3 453.7l8.34 -8.34M188.3 428.3l8.34 8.34M188.3 436.7l8.34 -8.34M233.3 427.3l8.34 8.34M233.3 435.7l8.34 -8.34M209.3 443.3l8.34 8.34M209.3 451.7l8.34 -8.34M229.3 436.3l8.34 8.34M229.3 444.7l8.34 -8.34M241.3 445.3l8.34 8.34M241.3 453.7l8.34 -8.34M191.3 442.3l8.34 8.34M191.3 450.7l8.34 -8.34M212.3 431.3l8.34 8.34M212.3 439.7l8.34 -8.34M203.3 435.3l8.34 8.34M203.3 443.7l8.34 -8.34M232.3 442.3l8.34 8.34M232.3 450.7l8.34 -8.34M192.3 431.3l8.34 8.34M192.3 439.7l8.34 -8.34M179.3 422.3l8.34 8.34M179.3 430.7l8.34 -8.34M197.3 424.3l8.34 8.34M197.3 432.7l8.34 -8.34M233.3 445.3l8.34 8.34M233.3 453.7l8.34 -8.34M197.3 423.3l8.34 8.34M197.3 431.7l8.34 -8.34M191.3 438.3l8.34 8.34M191.3 446.7l8.34 -8.34M199.3 436.3l8.34 8.34M199.3 444.7l8.34 -8.34M200.3 432.3l8.34 8.34M200.3 440.7l8.34 -8.34M193.3 441.3l8.34 8.34M193.3 449.7l8.34 -8.34M198.3 424.3l8.34 8.34M198.3 432.7l8.34 -8.34M220.3 439.3l8.34 8.34M220.3 447.7l8.34 -8.34M196.3 439.3l8.34 8.34M196.3 447.7l8.34 -8.34M180.3 435.3l8.34 8.34M180.3 443.7l8.34 -8.34M211.3 431.3l8.34 8.34M211.3 439.7l8.34 -8.34M198.3 436.3l8.34 8.34M198.3 444.7l8.34 -8.34M235.3 435.3l8.34 8.34M235.3 443.7l8.34 -8.34M232.3 436.3l8.34 8.34M232.3 444.7l8.34 -8.34M194.3 423.3l8.34 8.34M194.3 431.7l8.34 -8.34M215.3 435.3l8.34 8.34M215.3 443.7l8.34 -8.34M207.3 434.3l8.34 8.34M207.3 442.7l8.34 -8.34M216.3 443.3l8.34 8.34M216.3 451.7l8.34 -8.34M220.3 429.3l8.34 8.34M220.3 437.7l8.34 -8.34M208.3 443.3l8.34 8.34M208.3 451.7l8.34 -8.34M232.3 428.3l8.34 8.34M232.3 436.7l8.34 -8.34M207.3 441.3l8.34 8.34M207.3 449.7l8.34 -8.34M193.3 425.3l8.34 8.34M193.3 433.7l8.34 -8.34M231.3 429.3l8.34 8.34M231.3 437.7l8.34 -8.34M207.3 440.3l8.34 8.34M207.3 448.7l8.34 -8.34M178.3 432.3l8.34 8.34M178.3 440.7l8.34 -8.34M190.3 440.3l8.34 8.34M190.3 448.7l8.34 -8.34M232.3 424.3l8.34 8.34M232.3 432.7l8.34 -8.34M220.3 435.3l8.34 8.34M220.3 443.7l8.34 -8.34M196.3 430.3l8.34 8.34M196.3 438.7l8.34 -8.34M216.3 439.3l8.34 8.34M216.3 447.7l8.34 -8.34M237.3 430.3l8.34 8.34M237.3 438.7l8.34 -8.34M216.3 435.3l8.34 8.34M216.3 443.7l8.34 -8.34M189.3 433.3l8.34 8.34M189.3 441.7l8.34 -8.34M184.3 433.3l8.34 8.34M184.3 441.7l8.34 -8.34M187.3 431.3l8.34 8.34M187.3 439.7l8.34 -8.34M217.3 427.3l8.34 8.34M217.3 435.7l8.34 -8.34M180.3 433.3l8.34 8.34M180.3 441.7l8.34 -8.34M233.3 430.3l8.34 8.34M233.3 438.7l8.34 -8.34M211.3 433.3l8.34 8.34M211.3 441.7l8.34 -8.34M220.3 429.3l8.34 8.34M220.3 437.7l8.34 -8.34M194.3 429.3l8.34 8.34M194.3 437.7l8.34 -8.34M194.3 441.3l8.34 8.34M194.3 449.7l8.34 -8.34M236.3 435.3l8.34 8.34M236.3 443.7l8.34 -8.34M182.3 428.3l8.34 8.34M182.3 436.7l8.34 -8.34M234.3 435.3l8.34 8.34M234.3 443.7l8.34 -8.34M237.3 430.3l8.34 8.34M237.3 438.7l8.34 -8.34M218.3 428.3l8.34 8.34M218.3 436.7l8.34 -8.34M233.3 444.3l8.34 8.34M233.3 452.7l8.34 -8.34M218.3 436.3l8.34 8.34M218.3 444.7l8.34 -8.34M236.3 428.3l8.34 8.34M236.3 436.7l8.34 -8.34M233.3 422.3l8.34 8.34M233.3 430.7l8.34 -8.34M201.3 439.3l8.34 8.34M201.3 447.7l8.34 -8.34M226.3 434.3l8.34 8.34M226.3 442.7l8.34 -8.34M228.3 438.3l8.34 8.34M228.3 446.7l8.34 -8.34M208.3 437.3l8.34 8.34M208.3 445.7l8.34 -8.34M217.3 444.3l8.34 8.34M217.3 452.7l8.34 -8.34M225.3 431.3l8.34 8.34M225.3 439.7l8.34 -8.34M187.3 443.3l8.34 8.34M187.3 451.7l8.34 -8.34M195.3 441.3l8.34 8.34M195.3 449.7l8.34 -8.34M191.3 429.3l8.34 8.34M191.3 437.7l8.34 -8.34M239.3 440.3l8.34 8.34M239.3 448.7l8.34 -8.34M235.3 444.3l8.34 8.34M235.3 452.7l8.34 -8.34M181.3 426.3l8.34 8.34M181.3 434.7l8.34 -8.34M186.3 431.3l8.34 8.34M186.3 439.7l8.34 -8.34M189.3 431.3l8.34 8.34M189.3 439.7l8.34 -8.34M199.3 426.3l8.34 8.34M199.3 434.7l8.34 -8.34M199.3 439.3l8.34 8.34M199.3 447.7l8.34 -8.34M222.3 430.3l8.34 8.34M222.3 438.7l8.34 -8.34M195.3 430.3l8.34 8.34M195.3 438.7l8.34 -8.34M237.3 434.3l8.34 8.34M237.3 442.7l8.34 -8.34M210.3 434.3l8.34 8.34M210.3 442.7l8.34 -8.34M180.3 428.3l8.34 8.34M180.3 436.7l8.34 -8.34M204.3 443.3l8.34 8.34M204.3 451.7l8.34 -8.34M223.3 438.3l8.34 8.34M223.3 446.7l8.34 -8.34M179.3 433.3l8.34 8.34M179.3 441.7l8.34 -8.34M191.3 434.3l8.34 8.34M191.3 442.7l8.34 -8.34M211.3 438.3l8.34 8.34M211.3 446.7l8.34 -8.34M216.3 442.3l8.34 8.34M216.3 450.7l8.34 -8.34M191.3 444.3l8.34 8.34M191.3 452.7l8.34 -8.34M205.3 444.3l8.34 8.34M205.3 452.7l8.34 -8.34M223.3 441.3l8.34 8.34M223.3 449.7l8.34 -8.34M189.3 443.3l8.34 8.34M189.3 451.7l8.34 -8.34M183.3 429.3l8.34 8.34M183.3 437.7l8.34 -8.34M184.3 429.3l8.34 8.34M184.3 437.7l8.34 -8.34M231.3 442.3l8.34 8.34M231.3 450.7l8.34 -8.34M230.3 427.3l8.34 8.34M230.3 435.7l8.34 -8.34M210.3 440.3l8.34 8.34M210.3 448.7l8.34 -8.34M238.3 434.3l8.34 8.34M238.3 442.7l8.34 -8.34M215.3 433.3l8.34 8.34M215.3 441.7l8.34 -8.34M230.3 443.3l8.34 8.34M230.3 451.7l8.34 -8.34M238.3 444.3l8.34 8.34M238.3 452.7l8.34 -8.34M182.3 435.3l8.34 8.34M182.3 443.7l8.34 -8.34M206.3 444.3l8.34 8.34M206.3 452.7l8.34 -8.34M204.3 432.3l8.34 8.34M204.3 440.7l8.34 -8.34M212.3 429.3l8.34 8.34M212.3 437.7l8.34 -8.34M195.3 441.3l8.34 8.34M195.3 449.7l8.34 -8.34M240.3 441.3l8.34 8.34M240.3 449.7l8.34 -8.34M207.3 433.3l8.34 8.34M207.3 441.7l8.34 -8.34M198.3 428.3l8.34 8.34M198.3 436.7l8.34 -8.34M213.3 437.3l8.34 8.34M213.3 445.7l8.34 -8.34M222.3 440.3l8.34 8.34M222.3 448.7l8.34 -8.34M216.3 438.3l8.34 8.34M216.3 446.7l8.34 -8.34M185.3 425.3l8.34 8.34M185.3 433.7l8.34 -8.34M197.3 435.3l8.34 8.34M197.3 443.7l8.34 -8.34M179.3 431.3l8.34 8.34M179.3 439.7l8.34 -8.34M225.3 443.3l8.34 8.34M225.3 451.7l8.34 -8.34M214.3 436.3l8.34 8.34M214.3 444.7l8.34 -8.34M201.3 441.3l8.34 8.34M201.3 449.7l8.34 -8.34M232.3 434.3l8.34 8.34M232.3 442.7l8.34 -8.34M228.3 435.3l8.34 8.34M228.3 443.7l8.34 -8.34M229.3 441.3l8.34 8.34M229.3 449.7l8.34 -8.34M235.3 435.3l8.34 8.34M235.3 443.7l8.34 -8.34M237.3 444.3l8.34 8.34M237.3 452.7l8.34 -8.34M197.3 426.3l8.34 8.34M197.3 434.7l8.34 -8.34M222.3 436.3l8.34 8.34M222.3 444.7l8.34 -8.34M233.3 421.3l8.34 8.34M233.3 429.7l8.34 -8.34M189.3 429.3l8.34 8.34M189.3 437.7l8.34 -8.34M182.3 423.3l8.34 8.34M182.3 431.7l8.34 -8.34M177.3 422.3l8.34 8.34M177.3 430.7l8.34 -8.34M179.3 427.3l8.34 8.34M179.3 435.7l8.34 -8.34M209.3 436.3l8.34 8.34M209.3 444.7l8.34 -8.34M209.3 433.3l8.34 8.34M209.3 441.7l8.34 -8.34M240.3 433.3l8.34 8.34M240.3 441.7l8.34 -8.34M226.3 433.3l8.34 8.34M226.3 441.7l8.34 -8.34M240.3 432.3l8.34 8.34M240.3 440.7l8.34 -8.34M179.3 426.3l8.34 8.34M179.3 434.7l8.34 -8.34M181.3 437.3l8.34 8.34M181.3 445.7l8.34 -8.34M240.3 433.3l8.34 8.34M240.3 441.7l8.34 -8.34M180.3 434.3l8.34 8.34M180.3 442.7l8.34 -8.34M237.3 444.3l8.34 8.34M237.3 452.7l8.34 -8.34M233.3 433.3l8.34 8.34M233.3 441.7l8.34 -8.34M188.3 434.3l8.34 8.34M188.3 442.7l8.34 -8.34M187.3 439.3l8.34 8.34M187.3 447.7l8.34 -8.34M219.3 434.3l8.34 8.34M219.3 442.7l8.34 -8.34M228.3 439.3l8.34 8.34M228.3 447.7l8.34 -8.34M188.3 433.3l8.34 8.34M188.3 441.7l8.34 -8.34M222.3 437.3l8.34 8.34M222.3 445.7l8.34 -8.34M229.3 445.3l8.34 8.34M229.3 453.7l8.34 -8.34M240.3 437.3l8.34 8.34M240.3 445.7l8.34 -8.34M203.3 439.3l8.34 8.34M203.3 447.7l8.34 -8.34M220.3 444.3l8.34 8.34M220.3 452.7l8.34 -8.34M218.3 440.3l8.34 8.34M218.3 448.7l8.34 -8.34M239.3 439.3l8.34 8.34M239.3 447.7l8.34 -8.34M230.3 433.3l8.34 8.34M230.3 441.7l8.34 -8.34M207.3 438.3l8.34 8.34M207.3 446.7l8.34 -8.34M187.3 430.3l8.34 8.34M187.3 438.7l8.34 -8.34M239.3 432.3l8.34 8.34M239.3 440.7l8.34 -8.34M192.3 438.3l8.34 8.34M192.3 446.7l8.34 -8.34M217.3 433.3l8.34 8.34M217.3 441.7l8.34 -8.34M199.3 427.3l8.34 8.34M199.3 435.7l8.34 -8.34M182.3 423.3l8.34 8.34M182.3 431.7l8.34 -8.34M196.3 432.3l8.34 8.34M196.3 440.7l8.34 -8.34M208.3 442.3l8.34 8.34M208.3 450.7l8.34 -8.34M233.3 434.3l8.34 8.34M233.3 442.7l8.34 -8.34M197.3 441.3l8.34 8.34M197.3 449.7l8.34 -8.34M188.3 438.3l8.34 8.34M188.3 446.7l8.34 -8.34M190.3 437.3l8.34 8.34M190.3 445.7l8.34 -8.34M240.3 431.3l8.34 8.34M240.3 439.7l8.34 -8.34M233.3 424.3l8.34 8.34M233.3 432.7l8.34 -8.34M226.3 435.3l8.34 8.34M226.3 443.7l8.34 -8.34M210.3 437.3l8.34 8.34M210.3 445.7l8.34 -8.34M236.3 434.3l8.34 8.34M236.3 442.7l8.34 -8.34M215.3 436.3l8.34 8.34M215.3 444.7l8.34 -8.34M205.3 435.3l8.34 8.34M205.3 443.7l8.34 -8.34M198.3 439.3l8.34 8.34M198.3 447.7l8.34 -8.34M208.3 439.3l8.34 8.34M208.3 447.7l8.34 -8.34M221.3 444.3l8.34 8.34M221.3 452.7l8.34 -8.34M192.3 441.3l8.34 8.34M192.3 449.7l8.34 -8.34M231.3 428.3l8.34 8.34M231.3 436.7l8.34 -8.34M188.3 443.3l8.34 8.34M188.3 451.7l8.34 -8.34M195.3 424.3l8.34 8.34M195.3 432.7l8.34 -8.34M177.3 421.3l8.34 8.34M177.3 429.7l8.34 -8.34M182.3 423.3l8.34 8.34M182.3 431.7l8.34 -8.34M176.3 425.3l8.34 8.34M176.3 433.7l8.34 -8.34M198.3 422.3l8.34 8.34M198.3 430.7l8.34 -8.34M194.3 424.3l8.34 8.34M194.3 432.7l8.34 -8.34M183.3 431.3l8.34 8.34M183.3 439.7l8.34 -8.34M194.3 431.3l8.34 8.34M194.3 439.7l8.34 -8.34M233.3 420.3l8.34 8.34M233.3 428.7l8.34 -8.34M231.3 423.3l8.34 8.34M231.3 431.7l8.34 -8.34M238.3 425.3l8.34 8.34M238.3 433.7l8.34 -8.34M218.3 426.3l8.34 8.34M218.3 434.7l8.34 -8.34M214.3 427.3l8.34 8.34M214.3 435.7l8.34 -8.34M218.3 431.3l8.34 8.34M218.3 439.7l8.34 -8.34M231.3 431.3l8.34 8.34M231.3 439.7l8.34 -8.34M199.3 441.3l8.34 8.34M199.3 449.7l8.34 -8.34M194.3 441.3l8.34 8.34M194.3 449.7l8.34 -8.34M190.3 445.3l8.34 8.34M190.3 453.7l8.34 -8.34M204.3 445.3l8.34 8.34M204.3 453.7l8.34 -8.34M211.3 445.3l8.34 8.34M211.3 453.7l8.34 -8.34M225.3 447.3l8.34 8.34M225.3 455.7l8.34 -8.34M232.3 445.3l8.34 8.34M232.3 453.7l8.34 -8.34M241.3 446.3l8.34 8.34M241.3 454.7l8.34 -8.34M239.3 440.3l8.34 8.34M239.3 448.7l8.34 -8.34M239.3 435.3l8.34 8.34M239.3 443.7l8.34 -8.34M208.3 437.3l8.34 8.34M208.3 445.7l8.34 -8.34M224.3 438.3l8.34 8.34M224.3 446.7l8.34 -8.34"/>
<g class="mo">
<circle cx="204.2" cy="432.1" r="4.17"/>
<circle cx="190.1" cy="433.1" r="4.17"/>
<circle cx="211.3" cy="446.0" r="4.17"/>
<circle cx="199.2" cy="443.0" r="4.17"/>
<circle cx="222.8" cy="441.8" r="4.17"/>
<circle cx="231.4" cy="437.4" r="4.17"/>
<circle cx="243.8" cy="432.8" r="4.17"/>
<circle cx="181.8" cy="432.1" r="4.17"/>
<circle cx="238.3" cy="434.2" r="4.17"/>
<circle cx="221.2" cy="445.9" r="4.17"/>
<circle cx="209.9" cy="443.7" r="4.17"/>
<circle cx="239.9" cy="447.2" r="4.17"/>
<circle cx="204.7" cy="433.1" r="4.17"/>
<circle cx="210.4" cy="442.0" r="4.17"/>
<circle cx="234.4" cy="432.8" r="4.17"/>
<circle cx="215.6" cy="446.2" r="4.17"/>
<circle cx="245.4" cy="442.6" r="4.17"/>
<circle cx="207.6" cy="441.0" r="4.17"/>
<circle cx="216.1" cy="447.1" r="4.17"/>
<circle cx="195.5" cy="448.5" r="4.17"/>
<circle cx="236.2" cy="429.9" r="4.17"/>
<circle cx="184.6" cy="427.0" r="4.17"/>
<circle cx="239.1" cy="426.0" r="4.17"/>
<circle cx="196.1" cy="442.3" r="4.17"/>
<circle cx="243.0" cy="432.0" r="4.17"/>
<circle cx="213.2" cy="445.8" r="4.17"/>
<circle cx="227.3" cy="440.7" r="4.17"/>
<circle cx="214.9" cy="448.0" r="4.17"/>
<circle cx="245.5" cy="442.2" r="4.17"/>
<circle cx="229.0" cy="445.6" r="4.17"/>
<circle cx="216.6" cy="440.9" r="4.17"/>
<circle cx="234.0" cy="442.5" r="4.17"/>
<circle cx="232.3" cy="442.5" r="4.17"/>
<circle cx="185.2" cy="432.9" r="4.17"/>
<circle cx="207.4" cy="434.7" r="4.17"/>
<circle cx="225.9" cy="446.2" r="4.17"/>
<circle cx="216.3" cy="445.1" r="4.17"/>
<circle cx="202.7" cy="441.5" r="4.17"/>
<circle cx="214.8" cy="435.4" r="4.17"/>
<circle cx="227.3" cy="443.4" r="4.17"/>
<circle cx="213.1" cy="440.9" r="4.17"/>
<circle cx="240.9" cy="433.8" r="4.17"/>
<circle cx="215.6" cy="435.3" r="4.17"/>
<circle cx="190.6" cy="433.6" r="4.17"/>
<circle cx="237.5" cy="431.7" r="4.17"/>
<circle cx="239.0" cy="437.6" r="4.17"/>
<circle cx="212.8" cy="440.0" r="4.17"/>
<circle cx="204.6" cy="435.2" r="4.17"/>
<circle cx="226.2" cy="439.3" r="4.17"/>
<circle cx="242.2" cy="429.2" r="4.17"/>
<circle cx="181.9" cy="431.0" r="4.17"/>
<circle cx="230.8" cy="434.2" r="4.17"/>
<circle cx="218.6" cy="446.8" r="4.17"/>
<circle cx="227.0" cy="449.1" r="4.17"/>
<circle cx="209.3" cy="441.8" r="4.17"/>
<circle cx="189.8" cy="433.2" r="4.17"/>
<circle cx="237.5" cy="440.8" r="4.17"/>
<circle cx="230.9" cy="435.4" r="4.17"/>
<circle cx="200.6" cy="427.9" r="4.17"/>
<circle cx="213.4" cy="438.7" r="4.17"/>
<circle cx="206.1" cy="442.4" r="4.17"/>
<circle cx="240.0" cy="447.3" r="4.17"/>
<circle cx="222.7" cy="430.1" r="4.17"/>
<circle cx="230.9" cy="441.2" r="4.17"/>
<circle cx="205.0" cy="446.7" r="4.17"/>
<circle cx="204.4" cy="444.6" r="4.17"/>
<circle cx="232.9" cy="437.2" r="4.17"/>
<circle cx="218.5" cy="443.6" r="4.17"/>
<circle cx="202.6" cy="434.7" r="4.17"/>
<circle cx="227.5" cy="445.6" r="4.17"/>
<circle cx="228.6" cy="441.2" r="4.17"/>
<circle cx="196.7" cy="436.7" r="4.17"/>
<circle cx="244.0" cy="442.4" r="4.17"/>
<circle cx="225.6" cy="437.7" r="4.17"/>
<circle cx="232.5" cy="448.4" r="4.17"/>
<circle cx="237.4" cy="433.7" r="4.17"/>
<circle cx="195.5" cy="441.1" r="4.17"/>
<circle cx="218.4" cy="434.0" r="4.17"/>
<circle cx="182.5" cy="435.7" r="4.17"/>
<circle cx="234.0" cy="437.4" r="4.17"/>
<circle cx="186.8" cy="436.3" r="4.17"/>
<circle cx="209.5" cy="445.2" r="4.17"/>
<circle cx="199.2" cy="434.1" r="4.17"/>
<circle cx="222.9" cy="443.3" r="4.17"/>
<circle cx="195.7" cy="437.0" r="4.17"/>
<circle cx="230.9" cy="443.3" r="4.17"/>
<circle cx="191.1" cy="436.3" r="4.17"/>
<circle cx="225.4" cy="433.3" r="4.17"/>
<circle cx="241.1" cy="444.4" r="4.17"/>
<circle cx="202.6" cy="428.8" r="4.17"/>
<circle cx="234.5" cy="429.4" r="4.17"/>
<circle cx="219.9" cy="445.0" r="4.17"/>
<circle cx="185.0" cy="439.1" r="4.17"/>
<circle cx="182.3" cy="436.1" r="4.17"/>
<circle cx="213.8" cy="444.4" r="4.17"/>
<circle cx="236.6" cy="449.2" r="4.17"/>
<circle cx="192.2" cy="432.2" r="4.17"/>
<circle cx="237.9" cy="431.4" r="4.17"/>
<circle cx="213.4" cy="447.3" r="4.17"/>
<circle cx="233.7" cy="440.0" r="4.17"/>
<circle cx="245.0" cy="449.5" r="4.17"/>
<circle cx="195.7" cy="446.8" r="4.17"/>
<circle cx="216.7" cy="435.6" r="4.17"/>
<circle cx="207.2" cy="439.3" r="4.17"/>
<circle cx="236.7" cy="446.8" r="4.17"/>
<circle cx="196.9" cy="435.7" r="4.17"/>
<circle cx="183.3" cy="426.7" r="4.17"/>
<circle cx="201.1" cy="428.9" r="4.17"/>
<circle cx="237.1" cy="449.4" r="4.17"/>
<circle cx="201.8" cy="427.3" r="4.17"/>
<circle cx="195.8" cy="442.5" r="4.17"/>
<circle cx="203.5" cy="440.8" r="4.17"/>
<circle cx="204.1" cy="436.1" r="4.17"/>
<circle cx="197.2" cy="445.0" r="4.17"/>
<circle cx="202.3" cy="428.0" r="4.17"/>
<circle cx="224.9" cy="443.4" r="4.17"/>
<circle cx="200.3" cy="443.8" r="4.17"/>
<circle cx="184.2" cy="439.6" r="4.17"/>
<circle cx="215.4" cy="435.1" r="4.17"/>
<circle cx="202.9" cy="440.9" r="4.17"/>
<circle cx="239.3" cy="439.4" r="4.17"/>
<circle cx="236.2" cy="440.4" r="4.17"/>
<circle cx="198.8" cy="427.9" r="4.17"/>
<circle cx="219.4" cy="439.6" r="4.17"/>
<circle cx="211.2" cy="438.2" r="4.17"/>
<circle cx="220.5" cy="447.0" r="4.17"/>
<circle cx="224.6" cy="433.4" r="4.17"/>
<circle cx="212.9" cy="447.4" r="4.17"/>
<circle cx="236.2" cy="432.7" r="4.17"/>
<circle cx="211.8" cy="445.8" r="4.17"/>
<circle cx="197.8" cy="429.1" r="4.17"/>
<circle cx="235.2" cy="433.1" r="4.17"/>
<circle cx="211.5" cy="444.8" r="4.17"/>
<circle cx="182.3" cy="436.1" r="4.17"/>
<circle cx="194.2" cy="444.7" r="4.17"/>
<circle cx="236.5" cy="428.1" r="4.17"/>
<circle cx="224.6" cy="439.0" r="4.17"/>
<circle cx="200.3" cy="434.0" r="4.17"/>
<circle cx="220.9" cy="443.8" r="4.17"/>
<circle cx="241.5" cy="434.4" r="4.17"/>
<circle cx="220.9" cy="439.6" r="4.17"/>
<circle cx="193.0" cy="437.5" r="4.17"/>
<circle cx="188.4" cy="437.6" r="4.17"/>
<circle cx="191.1" cy="435.4" r="4.17"/>
<circle cx="221.0" cy="431.6" r="4.17"/>
<circle cx="184.6" cy="437.1" r="4.17"/>
<circle cx="237.6" cy="434.6" r="4.17"/>
<circle cx="215.8" cy="437.9" r="4.17"/>
<circle cx="224.4" cy="433.2" r="4.17"/>
<circle cx="198.4" cy="433.6" r="4.17"/>
<circle cx="198.5" cy="445.2" r="4.17"/>
<circle cx="240.0" cy="439.9" r="4.17"/>
<circle cx="186.4" cy="432.2" r="4.17"/>
<circle cx="238.3" cy="439.1" r="4.17"/>
<circle cx="241.0" cy="434.6" r="4.17"/>
<circle cx="222.8" cy="432.9" r="4.17"/>
<circle cx="237.7" cy="448.9" r="4.17"/>
<circle cx="222.4" cy="440.0" r="4.17"/>
<circle cx="240.9" cy="432.6" r="4.17"/>
<circle cx="237.6" cy="426.8" r="4.17"/>
<circle cx="205.7" cy="443.7" r="4.17"/>
<circle cx="230.9" cy="438.8" r="4.17"/>
<circle cx="232.4" cy="442.3" r="4.17"/>
<circle cx="212.8" cy="441.2" r="4.17"/>
<circle cx="221.5" cy="448.0" r="4.17"/>
<circle cx="229.4" cy="435.2" r="4.17"/>
<circle cx="191.4" cy="447.4" r="4.17"/>
<circle cx="199.5" cy="445.7" r="4.17"/>
<circle cx="195.3" cy="433.6" r="4.17"/>
<circle cx="243.7" cy="444.2" r="4.17"/>
<circle cx="239.0" cy="448.6" r="4.17"/>
<circle cx="185.8" cy="430.0" r="4.17"/>
<circle cx="190.5" cy="435.0" r="4.17"/>
<circle cx="193.2" cy="435.3" r="4.17"/>
<circle cx="203.0" cy="430.7" r="4.17"/>
<circle cx="203.1" cy="443.3" r="4.17"/>
<circle cx="226.1" cy="434.8" r="4.17"/>
<circle cx="199.4" cy="434.5" r="4.17"/>
<circle cx="241.5" cy="438.3" r="4.17"/>
<circle cx="214.7" cy="438.2" r="4.17"/>
<circle cx="184.3" cy="432.8" r="4.17"/>
<circle cx="208.5" cy="447.7" r="4.17"/>
<circle cx="227.0" cy="442.0" r="4.17"/>
<circle cx="183.6" cy="437.2" r="4.17"/>
<circle cx="195.7" cy="438.2" r="4.17"/>
<circle cx="215.6" cy="442.7" r="4.17"/>
<circle cx="220.3" cy="446.1" r="4.17"/>
<circle cx="195.7" cy="448.3" r="4.17"/>
<circle cx="209.4" cy="448.0" r="4.17"/>
<circle cx="227.0" cy="445.1" r="4.17"/>
<circle cx="193.9" cy="447.3" r="4.17"/>
<circle cx="187.6" cy="433.1" r="4.17"/>
<circle cx="188.5" cy="433.3" r="4.17"/>
<circle cx="235.8" cy="446.1" r="4.17"/>
<circle cx="234.3" cy="431.1" r="4.17"/>
<circle cx="214.8" cy="444.7" r="4.17"/>
<circle cx="242.0" cy="438.0" r="4.17"/>
<circle cx="219.9" cy="437.0" r="4.17"/>
<circle cx="234.9" cy="447.0" r="4.17"/>
<circle cx="242.0" cy="448.7" r="4.17"/>
<circle cx="186.7" cy="439.8" r="4.17"/>
<circle cx="210.7" cy="448.9" r="4.17"/>
<circle cx="208.4" cy="436.5" r="4.17"/>
<circle cx="216.7" cy="433.9" r="4.17"/>
<circle cx="199.8" cy="445.9" r="4.17"/>
<circle cx="244.8" cy="445.5" r="4.17"/>
<circle cx="211.8" cy="437.9" r="4.17"/>
<circle cx="202.6" cy="432.8" r="4.17"/>
<circle cx="217.1" cy="441.5" r="4.17"/>
<circle cx="226.1" cy="444.8" r="4.17"/>
<circle cx="220.6" cy="442.1" r="4.17"/>
<circle cx="189.1" cy="429.7" r="4.17"/>
<circle cx="201.6" cy="439.6" r="4.17"/>
<circle cx="183.9" cy="435.1" r="4.17"/>
<circle cx="229.8" cy="447.9" r="4.17"/>
<circle cx="218.6" cy="440.0" r="4.17"/>
<circle cx="205.1" cy="445.1" r="4.17"/>
<circle cx="236.1" cy="438.4" r="4.17"/>
<circle cx="232.5" cy="439.1" r="4.17"/>
<circle cx="233.1" cy="445.9" r="4.17"/>
<circle cx="239.1" cy="439.6" r="4.17"/>
<circle cx="241.3" cy="448.3" r="4.17"/>
<circle cx="201.4" cy="430.1" r="4.17"/>
<circle cx="226.8" cy="440.8" r="4.17"/>
<circle cx="237.7" cy="425.3" r="4.17"/>
<circle cx="193.1" cy="433.2" r="4.17"/>
<circle cx="186.0" cy="427.3" r="4.17"/>
<circle cx="181.7" cy="426.9" r="4.17"/>
<circle cx="183.4" cy="431.4" r="4.17"/>
<circle cx="213.7" cy="440.2" r="4.17"/>
<circle cx="213.4" cy="437.6" r="4.17"/>
<circle cx="244.2" cy="437.1" r="4.17"/>
<circle cx="230.6" cy="437.6" r="4.17"/>
<circle cx="244.3" cy="436.4" r="4.17"/>
<circle cx="183.4" cy="430.3" r="4.17"/>
<circle cx="185.1" cy="441.6" r="4.17"/>
<circle cx="244.6" cy="437.5" r="4.17"/>
<circle cx="184.9" cy="438.5" r="4.17"/>
<circle cx="241.1" cy="448.9" r="4.17"/>
<circle cx="237.1" cy="437.3" r="4.17"/>
<circle cx="192.8" cy="438.8" r="4.17"/>
<circle cx="191.9" cy="443.7" r="4.17"/>
<circle cx="223.2" cy="438.3" r="4.17"/>
<circle cx="232.1" cy="443.7" r="4.17"/>
<circle cx="192.2" cy="437.9" r="4.17"/>
<circle cx="226.0" cy="441.1" r="4.17"/>
<circle cx="233.4" cy="449.4" r="4.17"/>
<circle cx="244.1" cy="441.4" r="4.17"/>
<circle cx="207.9" cy="443.0" r="4.17"/>
<circle cx="224.2" cy="448.6" r="4.17"/>
<circle cx="222.7" cy="444.4" r="4.17"/>
<circle cx="243.7" cy="443.3" r="4.17"/>
<circle cx="234.9" cy="437.1" r="4.17"/>
<circle cx="211.2" cy="442.1" r="4.17"/>
<circle cx="191.5" cy="434.8" r="4.17"/>
<circle cx="243.2" cy="436.2" r="4.17"/>
<circle cx="196.9" cy="442.6" r="4.17"/>
<circle cx="221.0" cy="437.4" r="4.17"/>
<circle cx="203.5" cy="431.8" r="4.17"/>
<circle cx="186.5" cy="427.8" r="4.17"/>
<circle cx="200.0" cy="436.7" r="4.17"/>
<circle cx="212.9" cy="446.0" r="4.17"/>
<circle cx="237.7" cy="438.1" r="4.17"/>
<circle cx="201.3" cy="445.6" r="4.17"/>
<circle cx="192.8" cy="442.4" r="4.17"/>
<circle cx="194.1" cy="441.5" r="4.17"/>
<circle cx="244.4" cy="435.1" r="4.17"/>
<circle cx="237.8" cy="428.8" r="4.17"/>
<circle cx="230.4" cy="439.4" r="4.17"/>
<circle cx="214.1" cy="441.3" r="4.17"/>
<circle cx="240.4" cy="438.5" r="4.17"/>
<circle cx="219.8" cy="440.3" r="4.17"/>
<circle cx="209.8" cy="439.4" r="4.17"/>
<circle cx="202.4" cy="443.6" r="4.17"/>
<circle cx="212.8" cy="443.0" r="4.17"/>
<circle cx="225.1" cy="448.2" r="4.17"/>
<circle cx="196.6" cy="445.3" r="4.17"/>
<circle cx="235.1" cy="432.2" r="4.17"/>
<circle cx="192.2" cy="447.9" r="4.17"/>
<circle cx="199.1" cy="428.6" r="4.17"/>
<circle cx="181.2" cy="425.7" r="4.17"/>
<circle cx="186.3" cy="427.4" r="4.17"/>
<circle cx="180.1" cy="429.6" r="4.17"/>
<circle cx="202.1" cy="426.2" r="4.17"/>
<circle cx="198.1" cy="428.5" r="4.17"/>
<circle cx="187.4" cy="435.2" r="4.17"/>
<circle cx="198.1" cy="435.2" r="4.17"/>
<circle cx="237.5" cy="424.6" r="4.17"/>
<circle cx="235.2" cy="427.9" r="4.17"/>
<circle cx="242.6" cy="429.6" r="4.17"/>
<circle cx="222.9" cy="430.2" r="4.17"/>
<circle cx="218.4" cy="431.9" r="4.17"/>
<circle cx="222.9" cy="435.8" r="4.17"/>
<circle cx="235.2" cy="435.2" r="4.17"/>
<circle cx="203.8" cy="445.4" r="4.17"/>
<circle cx="198.1" cy="445.4" r="4.17"/>
<circle cx="194.2" cy="449.9" r="4.17"/>
<circle cx="208.8" cy="449.9" r="4.17"/>
<circle cx="215.6" cy="449.9" r="4.17"/>
<circle cx="229.1" cy="451.0" r="4.17"/>
<circle cx="236.4" cy="449.3" r="4.17"/>
<circle cx="245.1" cy="450.4" r="4.17"/>
<circle cx="243.1" cy="444.2" r="4.17"/>
<circle cx="243.7" cy="439.2" r="4.17"/>
</g>
<path d="M100.5 441.50H382.5" stroke="#0000ff" stroke-width="1.4" stroke-dasharray="8.33 8.33" fill="none"/>
<path d="M100.5 442.50H382.5" stroke="#ff0000" stroke-width="1.4" stroke-dasharray="8.33 8.33" fill="none"/>
<path d="M100.5 425.50H382.5" stroke="#0000ff" stroke-width="1.4" stroke-dasharray="4.17 6.94 1.39 6.94" fill="none"/>
<path d="M100.5 459.50H382.5" stroke="#0000ff" stroke-width="1.4" stroke-dasharray="4.17 6.94 1.39 6.94" fill="none"/>
<g class="mo">
<circle cx="212.2" cy="441.4" r="4.17"/>
<circle cx="228.5" cy="442.6" r="4.17"/>
</g>
</g>
<path class="tk" d="M100.50 540.50v-6.10M138.50 540.50v-6.10M175.50 540.50v-6.10M213.50 540.50v-6.10M250.50 540.50v-6.10M288.50 540.50v-6.10M325.50 540.50v-6.10M363.50 540.50v-6.10M113.50 60.50v6.10M151.50 60.50v6.10M189.50 60.50v6.10M226.50 60.50v6.10M264.50 60.50v6.10M301.50 60.50v6.10M339.50 60.50v6.10M377.50 60.50v6.10M100.50 540.50h6.10M382.50 540.50h-6.10M100.50 420.50h6.10M382.50 420.50h-6.10M100.50 300.50h6.10M382.50 300.50h-6.10M100.50 180.50h6.10M382.50 180.50h-6.10M100.50 60.50h6.10M382.50 60.50h-6.10"/>
<rect class="sp" x="100.5" y="60.5" width="282.0" height="480.0"/>
<text class="b" transform="translate(100.00 559.70) scale(0.9048 1)" font-size="17.50" text-anchor="middle">−20</text>
<text class="b" transform="translate(137.58 559.70) scale(0.9048 1)" font-size="17.50" text-anchor="middle">−18</text>
<text class="b" transform="translate(175.15 559.70) scale(0.9048 1)" font-size="17.50" text-anchor="middle">−16</text>
<text class="b" transform="translate(212.73 559.70) scale(0.9048 1)" font-size="17.50" text-anchor="middle">−14</text>
<text class="b" transform="translate(250.30 559.70) scale(0.9048 1)" font-size="17.50" text-anchor="middle">−12</text>
<text class="b" transform="translate(287.88 559.70) scale(0.9048 1)" font-size="17.50" text-anchor="middle">−10</text>
<text class="b" transform="translate(325.45 559.70) scale(0.9048 1)" font-size="17.50" text-anchor="middle">−8</text>
<text class="b" transform="translate(363.03 559.70) scale(0.9048 1)" font-size="17.50" text-anchor="middle">−6</text>
<text class="b" transform="translate(113.48 50.00) scale(0.9048 1)" font-size="17.50" text-anchor="middle">14</text>
<text class="b" transform="translate(151.06 50.00) scale(0.9048 1)" font-size="17.50" text-anchor="middle">16</text>
<text class="b" transform="translate(188.63 50.00) scale(0.9048 1)" font-size="17.50" text-anchor="middle">18</text>
<text class="b" transform="translate(226.21 50.00) scale(0.9048 1)" font-size="17.50" text-anchor="middle">20</text>
<text class="b" transform="translate(263.78 50.00) scale(0.9048 1)" font-size="17.50" text-anchor="middle">22</text>
<text class="b" transform="translate(301.36 50.00) scale(0.9048 1)" font-size="17.50" text-anchor="middle">24</text>
<text class="b" transform="translate(338.93 50.00) scale(0.9048 1)" font-size="17.50" text-anchor="middle">26</text>
<text class="b" transform="translate(376.51 50.00) scale(0.9048 1)" font-size="17.50" text-anchor="middle">28</text>
<text class="b" transform="translate(96.20 544.50) scale(0.9048 1)" font-size="17.50" text-anchor="end">0</text>
<text class="b" transform="translate(96.20 424.50) scale(0.9048 1)" font-size="17.50" text-anchor="end">5</text>
<text class="b" transform="translate(95.40 304.50) scale(0.9048 1)" font-size="17.50" text-anchor="end">10</text>
<text class="b" transform="translate(95.40 184.50) scale(0.9048 1)" font-size="17.50" text-anchor="end">15</text>
<text class="b" transform="translate(95.40 64.50) scale(0.9048 1)" font-size="17.50" text-anchor="end">20</text>
<text class="b" transform="translate(241.90 583.50) scale(0.9524 1)" font-size="17.50" text-anchor="middle">magnitude (bottom:isnt / top:calib)</text>
<text class="b" transform="translate(64.00 300.00) rotate(-90) scale(0.9524 1)" font-size="17.50" text-anchor="middle">FWHM (pix)</text>
<text transform="translate(227.30 29.00) scale(1.0040 1)" font-size="20.00" text-anchor="middle">FWHM vs magnitudes</text>
<g clip-path="url(#c2)">
<rect x="438.5" y="322.5" width="57.0" height="57.0" fill="#0000ff" stroke="#000" stroke-width="1.39"/>
<rect x="438.5" y="265.5" width="150.0" height="57.0" fill="#0000ff" stroke="#000" stroke-width="1.39"/>
<rect x="438.5" y="208.5" width="202.0" height="57.0" fill="#0000ff" stroke="#000" stroke-width="1.39"/>
<rect x="438.5" y="151.5" width="85.0" height="57.0" fill="#0000ff" stroke="#000" stroke-width="1.39"/>
<rect x="438.5" y="93.5" width="66.0" height="58.0" fill="#0000ff" stroke="#000" stroke-width="1.39"/>
<path d="M438.5 238.5H682.9" stroke="#000" stroke-width="1.39" stroke-dasharray="8.33 8.33" fill="none"/>
</g>
<path class="tk" d="M438.50 540.50v-6.10M438.50 60.50v6.10M485.50 540.50v-6.10M485.50 60.50v6.10M532.50 540.50v-6.10M532.50 60.50v6.10M579.50 540.50v-6.10M579.50 60.50v6.10M626.50 540.50v-6.10M626.50 60.50v6.10M673.50 540.50v-6.10M673.50 60.50v6.10M720.50 540.50v-6.10M720.50 60.50v6.10M438.50 540.50h6.10M720.50 540.50h-6.10M438.50 487.50h6.10M720.50 487.50h-6.10M438.50 433.50h6.10M720.50 433.50h-6.10M438.50 380.50h6.10M720.50 380.50h-6.10M438.50 327.50h6.10M720.50 327.50h-6.10M438.50 273.50h6.10M720.50 273.50h-6.10M438.50 220.50h6.10M720.50 220.50h-6.10M438.50 167.50h6.10M720.50 167.50h-6.10M438.50 113.50h6.10M720.50 113.50h-6.10M438.50 60.50h6.10M720.50 60.50h-6.10"/>
<rect class="sp" x="438.5" y="60.5" width="282.0" height="480.0"/>
<text class="b" transform="translate(438.18 559.70) scale(0.9048 1)" font-size="17.50" text-anchor="middle">0</text>
<text class="b" transform="translate(485.15 559.70) scale(0.9048 1)" font-size="17.50" text-anchor="middle">10</text>
<text class="b" transform="translate(532.12 559.70) scale(0.9048 1)" font-size="17.50" text-anchor="middle">20</text>
<text class="b" transform="translate(579.09 559.70) scale(0.9048 1)" font-size="17.50" text-anchor="middle">30</text>
<text class="b" transform="translate(626.06 559.70) scale(0.9048 1)" font-size="17.50" text-anchor="middle">40</text>
<text class="b" transform="translate(673.03 559.70) scale(0.9048 1)" font-size="17.50" text-anchor="middle">50</text>
<text class="b" transform="translate(720.00 559.70) scale(0.9048 1)" font-size="17.50" text-anchor="middle">60</text>
<text class="b" transform="translate(433.60 544.50) scale(0.9048 1)" font-size="17.50" text-anchor="end">3.0</text>
<text class="b" transform="translate(433.60 491.17) scale(0.9048 1)" font-size="17.50" text-anchor="end">3.2</text>
<text class="b" transform="translate(433.60 437.83) scale(0.9048 1)" font-size="17.50" text-anchor="end">3.4</text>
<text class="b" transform="translate(433.60 384.50) scale(0.9048 1)" font-size="17.50" text-anchor="end">3.6</text>
<text class="b" transform="translate(433.60 331.17) scale(0.9048 1)" font-size="17.50" text-anchor="end">3.8</text>
<text class="b" transform="translate(433.60 277.83) scale(0.9048 1)" font-size="17.50" text-anchor="end">4.0</text>
<text class="b" transform="translate(433.60 224.50) scale(0.9048 1)" font-size="17.50" text-anchor="end">4.2</text>
<text class="b" transform="translate(433.60 171.17) scale(0.9048 1)" font-size="17.50" text-anchor="end">4.4</text>
<text class="b" transform="translate(433.60 117.83) scale(0.9048 1)" font-size="17.50" text-anchor="end">4.6</text>
<text class="b" transform="translate(433.60 64.50) scale(0.9048 1)" font-size="17.50" text-anchor="end">4.8</text>
<text class="b" transform="translate(579.70 583.50) scale(0.9524 1)" font-size="17.50" text-anchor="middle">number of sources</text>
<text class="b" transform="translate(395.70 300.00) rotate(-90) scale(0.9524 1)" font-size="17.50" text-anchor="middle">FWHM of best-effort PSF-like sources</text>
<text transform="translate(579.60 53.00) scale(1.0040 1)" font-size="20.00" text-anchor="middle">histogram of FWHM</text>
<rect x="27.5" y="70.5" width="345.0" height="180.0" fill="#fff" stroke="#000" stroke-width="1.39"/>
<path class="cp" d="M37.3 86.5h8.34M41.5 82.3v8.34M65.3 86.5h8.34M69.5 82.3v8.34"/>
<path class="bx" d="M37.3 111.3l8.34 8.34M37.3 119.7l8.34 -8.34M65.3 111.3l8.34 8.34M65.3 119.7l8.34 -8.34"/>
<g class="mo"><circle cx="41.5" cy="144.5" r="4.17"/><circle cx="69.5" cy="144.5" r="4.17"/></g>
<path d="M41.5 173.5H70.0" stroke="#0000ff" stroke-width="1.39" stroke-dasharray="8.33 8.33" fill="none"/>
<path d="M41.5 202.5H70.0" stroke="#ff0000" stroke-width="1.39" stroke-dasharray="8.33 8.33" fill="none"/>
<path d="M41.5 231.5H70.0" stroke="#0000ff" stroke-width="1.39" stroke-dasharray="4.17 6.94 1.39 6.94" fill="none"/>
<text transform="translate(91.00 93.10) scale(1.0040 1)" font-size="20.00" text-anchor="start">all sample</text>
<text transform="translate(91.00 122.10) scale(1.0040 1)" font-size="20.00" text-anchor="start">sample for rough FWHM</text>
<text transform="translate(91.00 151.10) scale(1.0040 1)" font-size="20.00" text-anchor="start">best-effort PSF-like sample</text>
<text transform="translate(91.00 180.10) scale(1.0040 1)" font-size="20.00" text-anchor="start">resultant FWHM: 4.13</text>
<text transform="translate(91.00 209.10) scale(1.0040 1)" font-size="20.00" text-anchor="start">median FHWM of sequence</text>
<text transform="translate(91.00 238.10) scale(1.0040 1)" font-size="20.00" text-anchor="start">sigma range</text>
</svg></body></html>
